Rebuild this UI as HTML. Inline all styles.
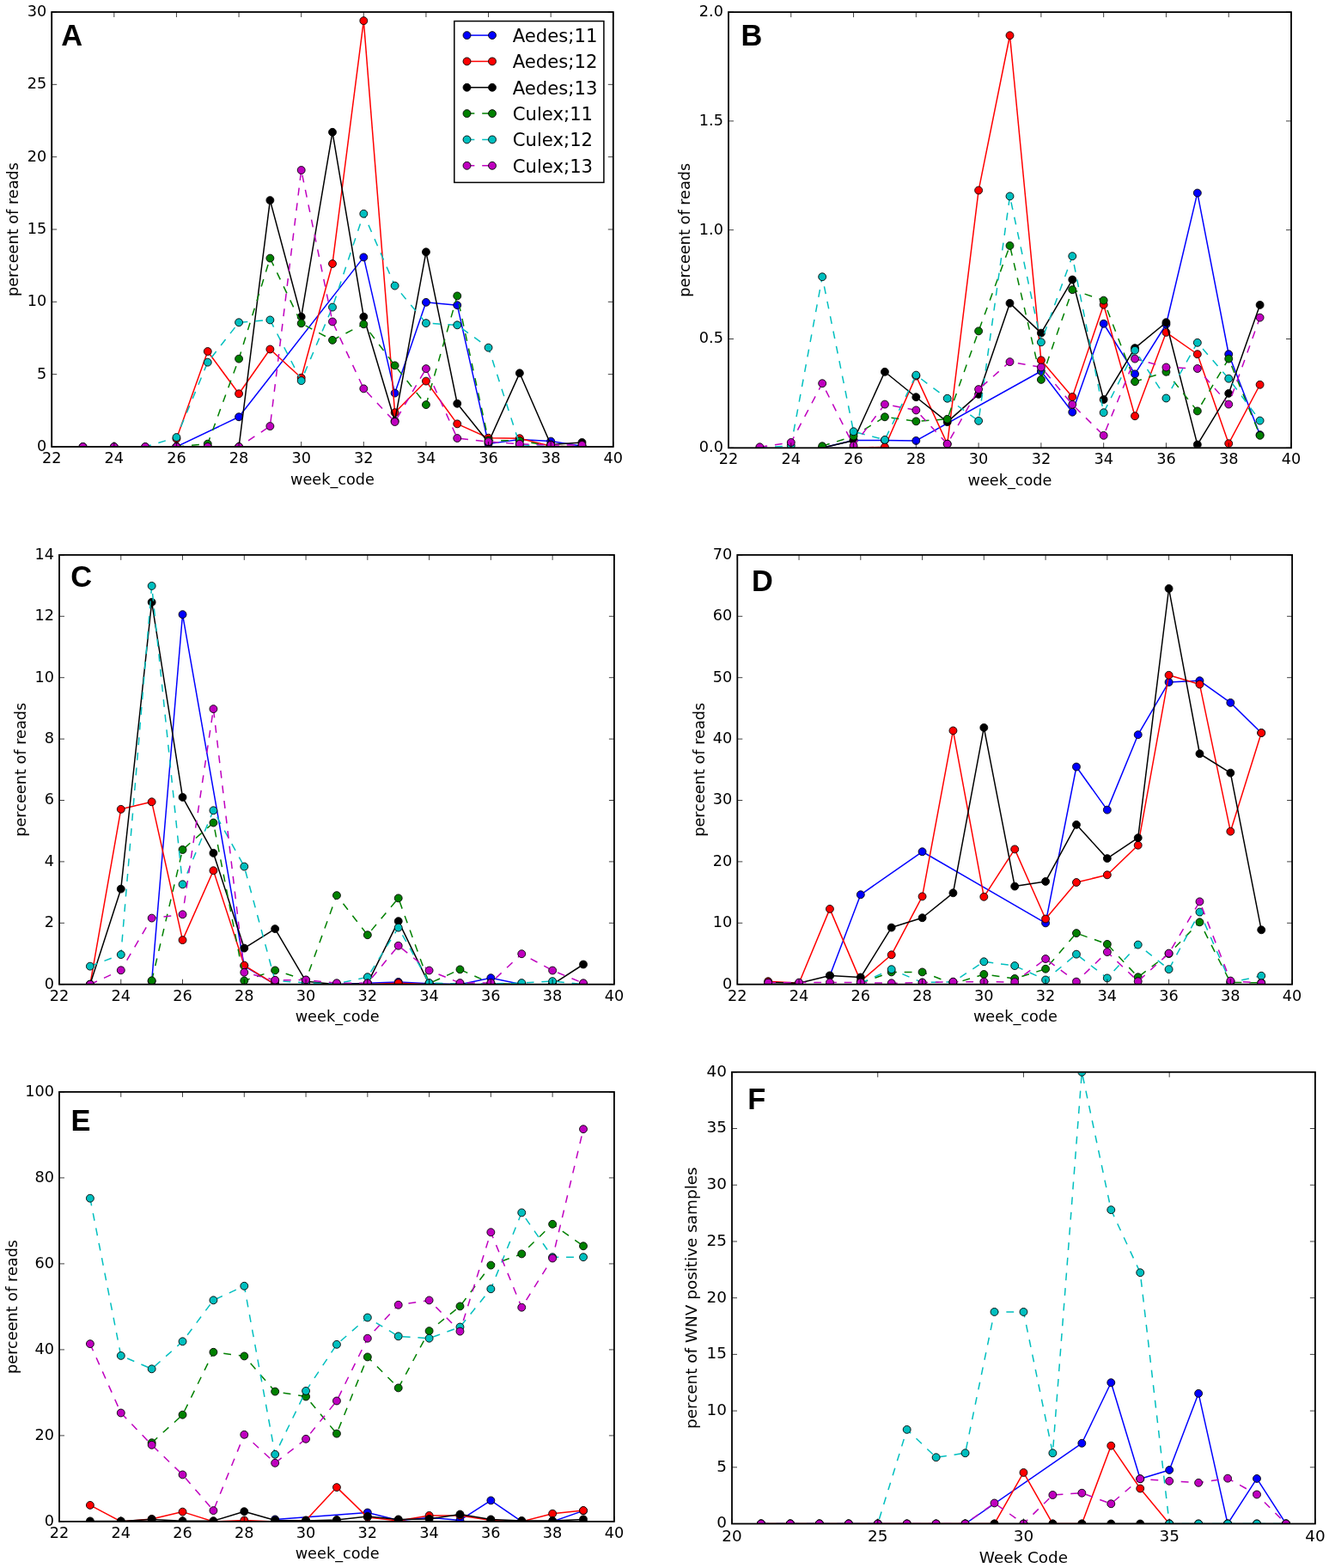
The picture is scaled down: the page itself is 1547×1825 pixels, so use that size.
<!DOCTYPE html>
<html><head><meta charset="utf-8"><title>Figure</title><style>html,body{margin:0;padding:0;background:#fff;}svg{display:block;}</style></head><body>
<svg width="1547" height="1825" viewBox="0 0 1547 1825" font-family="'DejaVu Sans', 'Liberation Sans', sans-serif">
<rect width="100%" height="100%" fill="#fff"/>
<clipPath id="c1"><rect x="60.8" y="14.6" width="652.4" height="504.8"/></clipPath>
<g clip-path="url(#c1)">
<path d="M205.44,520 L278.07,485.25 L423.31,299.38 L459.62,457.59 L495.93,351.84 L532.24,355.21 L568.56,516.63 L604.87,511.57 L641.18,513.59 L677.49,519.16" fill="none" stroke="#0000ff" stroke-width="1.5" stroke-linejoin="round" stroke-linecap="butt"/>
<circle cx="205.44" cy="520" r="4.45" fill="#0000ff" stroke="#000" stroke-width="0.9"/>
<circle cx="278.07" cy="485.25" r="4.45" fill="#0000ff" stroke="#000" stroke-width="0.9"/>
<circle cx="423.31" cy="299.38" r="4.45" fill="#0000ff" stroke="#000" stroke-width="0.9"/>
<circle cx="459.62" cy="457.59" r="4.45" fill="#0000ff" stroke="#000" stroke-width="0.9"/>
<circle cx="495.93" cy="351.84" r="4.45" fill="#0000ff" stroke="#000" stroke-width="0.9"/>
<circle cx="532.24" cy="355.21" r="4.45" fill="#0000ff" stroke="#000" stroke-width="0.9"/>
<circle cx="568.56" cy="516.63" r="4.45" fill="#0000ff" stroke="#000" stroke-width="0.9"/>
<circle cx="604.87" cy="511.57" r="4.45" fill="#0000ff" stroke="#000" stroke-width="0.9"/>
<circle cx="641.18" cy="513.59" r="4.45" fill="#0000ff" stroke="#000" stroke-width="0.9"/>
<circle cx="677.49" cy="519.16" r="4.45" fill="#0000ff" stroke="#000" stroke-width="0.9"/>
<path d="M205.44,510.72 L241.76,409.02 L278.07,458.27 L314.38,406.49 L350.69,439.71 L387,306.97 L423.31,24.12 L459.62,480.19 L495.93,443.59 L532.24,493.35 L568.56,509.71 L604.87,510.22 L641.18,519.16 L677.49,520" fill="none" stroke="#ff0000" stroke-width="1.5" stroke-linejoin="round" stroke-linecap="butt"/>
<circle cx="205.44" cy="510.72" r="4.45" fill="#ff0000" stroke="#000" stroke-width="0.9"/>
<circle cx="241.76" cy="409.02" r="4.45" fill="#ff0000" stroke="#000" stroke-width="0.9"/>
<circle cx="278.07" cy="458.27" r="4.45" fill="#ff0000" stroke="#000" stroke-width="0.9"/>
<circle cx="314.38" cy="406.49" r="4.45" fill="#ff0000" stroke="#000" stroke-width="0.9"/>
<circle cx="350.69" cy="439.71" r="4.45" fill="#ff0000" stroke="#000" stroke-width="0.9"/>
<circle cx="387" cy="306.97" r="4.45" fill="#ff0000" stroke="#000" stroke-width="0.9"/>
<circle cx="423.31" cy="24.12" r="4.45" fill="#ff0000" stroke="#000" stroke-width="0.9"/>
<circle cx="459.62" cy="480.19" r="4.45" fill="#ff0000" stroke="#000" stroke-width="0.9"/>
<circle cx="495.93" cy="443.59" r="4.45" fill="#ff0000" stroke="#000" stroke-width="0.9"/>
<circle cx="532.24" cy="493.35" r="4.45" fill="#ff0000" stroke="#000" stroke-width="0.9"/>
<circle cx="568.56" cy="509.71" r="4.45" fill="#ff0000" stroke="#000" stroke-width="0.9"/>
<circle cx="604.87" cy="510.22" r="4.45" fill="#ff0000" stroke="#000" stroke-width="0.9"/>
<circle cx="641.18" cy="519.16" r="4.45" fill="#ff0000" stroke="#000" stroke-width="0.9"/>
<circle cx="677.49" cy="520" r="4.45" fill="#ff0000" stroke="#000" stroke-width="0.9"/>
<path d="M205.44,520 L241.76,520 L278.07,520 L314.38,233.1 L350.69,368.71 L387,153.82 L423.31,368.71 L459.62,489.98 L495.93,293.31 L532.24,469.74 L568.56,514.94 L604.87,434.32 L641.18,517.47 L677.49,514.94" fill="none" stroke="#000000" stroke-width="1.5" stroke-linejoin="round" stroke-linecap="butt"/>
<circle cx="205.44" cy="520" r="4.45" fill="#000000" stroke="#000" stroke-width="0.9"/>
<circle cx="241.76" cy="520" r="4.45" fill="#000000" stroke="#000" stroke-width="0.9"/>
<circle cx="278.07" cy="520" r="4.45" fill="#000000" stroke="#000" stroke-width="0.9"/>
<circle cx="314.38" cy="233.1" r="4.45" fill="#000000" stroke="#000" stroke-width="0.9"/>
<circle cx="350.69" cy="368.71" r="4.45" fill="#000000" stroke="#000" stroke-width="0.9"/>
<circle cx="387" cy="153.82" r="4.45" fill="#000000" stroke="#000" stroke-width="0.9"/>
<circle cx="423.31" cy="368.71" r="4.45" fill="#000000" stroke="#000" stroke-width="0.9"/>
<circle cx="459.62" cy="489.98" r="4.45" fill="#000000" stroke="#000" stroke-width="0.9"/>
<circle cx="495.93" cy="293.31" r="4.45" fill="#000000" stroke="#000" stroke-width="0.9"/>
<circle cx="532.24" cy="469.74" r="4.45" fill="#000000" stroke="#000" stroke-width="0.9"/>
<circle cx="568.56" cy="514.94" r="4.45" fill="#000000" stroke="#000" stroke-width="0.9"/>
<circle cx="604.87" cy="434.32" r="4.45" fill="#000000" stroke="#000" stroke-width="0.9"/>
<circle cx="641.18" cy="517.47" r="4.45" fill="#000000" stroke="#000" stroke-width="0.9"/>
<circle cx="677.49" cy="514.94" r="4.45" fill="#000000" stroke="#000" stroke-width="0.9"/>
<path d="M205.44,520 L241.76,516.63 L278.07,417.62 L314.38,300.56 L350.69,376.3 L387,395.86 L423.31,377.31 L459.62,425.38 L495.93,471.09 L532.24,344.42 L568.56,512.41 L604.87,513.08 L641.18,519.16 L677.49,520" fill="none" stroke="#008000" stroke-width="1.5" stroke-dasharray="8.85,8.85" stroke-linejoin="round" stroke-linecap="butt"/>
<circle cx="205.44" cy="520" r="4.45" fill="#008000" stroke="#000" stroke-width="0.9"/>
<circle cx="241.76" cy="516.63" r="4.45" fill="#008000" stroke="#000" stroke-width="0.9"/>
<circle cx="278.07" cy="417.62" r="4.45" fill="#008000" stroke="#000" stroke-width="0.9"/>
<circle cx="314.38" cy="300.56" r="4.45" fill="#008000" stroke="#000" stroke-width="0.9"/>
<circle cx="350.69" cy="376.3" r="4.45" fill="#008000" stroke="#000" stroke-width="0.9"/>
<circle cx="387" cy="395.86" r="4.45" fill="#008000" stroke="#000" stroke-width="0.9"/>
<circle cx="423.31" cy="377.31" r="4.45" fill="#008000" stroke="#000" stroke-width="0.9"/>
<circle cx="459.62" cy="425.38" r="4.45" fill="#008000" stroke="#000" stroke-width="0.9"/>
<circle cx="495.93" cy="471.09" r="4.45" fill="#008000" stroke="#000" stroke-width="0.9"/>
<circle cx="532.24" cy="344.42" r="4.45" fill="#008000" stroke="#000" stroke-width="0.9"/>
<circle cx="568.56" cy="512.41" r="4.45" fill="#008000" stroke="#000" stroke-width="0.9"/>
<circle cx="604.87" cy="513.08" r="4.45" fill="#008000" stroke="#000" stroke-width="0.9"/>
<circle cx="641.18" cy="519.16" r="4.45" fill="#008000" stroke="#000" stroke-width="0.9"/>
<circle cx="677.49" cy="520" r="4.45" fill="#008000" stroke="#000" stroke-width="0.9"/>
<path d="M96.51,520 L132.82,520 L169.13,520 L205.44,509.04 L241.76,421.67 L278.07,375.28 L314.38,372.42 L350.69,443.09 L387,357.57 L423.31,248.78 L459.62,332.61 L495.93,376.13 L532.24,378.32 L568.56,404.63 L604.87,517.47 L641.18,520 L677.49,520" fill="none" stroke="#00bfbf" stroke-width="1.5" stroke-dasharray="8.85,8.85" stroke-linejoin="round" stroke-linecap="butt"/>
<circle cx="96.51" cy="520" r="4.45" fill="#00bfbf" stroke="#000" stroke-width="0.9"/>
<circle cx="132.82" cy="520" r="4.45" fill="#00bfbf" stroke="#000" stroke-width="0.9"/>
<circle cx="169.13" cy="520" r="4.45" fill="#00bfbf" stroke="#000" stroke-width="0.9"/>
<circle cx="205.44" cy="509.04" r="4.45" fill="#00bfbf" stroke="#000" stroke-width="0.9"/>
<circle cx="241.76" cy="421.67" r="4.45" fill="#00bfbf" stroke="#000" stroke-width="0.9"/>
<circle cx="278.07" cy="375.28" r="4.45" fill="#00bfbf" stroke="#000" stroke-width="0.9"/>
<circle cx="314.38" cy="372.42" r="4.45" fill="#00bfbf" stroke="#000" stroke-width="0.9"/>
<circle cx="350.69" cy="443.09" r="4.45" fill="#00bfbf" stroke="#000" stroke-width="0.9"/>
<circle cx="387" cy="357.57" r="4.45" fill="#00bfbf" stroke="#000" stroke-width="0.9"/>
<circle cx="423.31" cy="248.78" r="4.45" fill="#00bfbf" stroke="#000" stroke-width="0.9"/>
<circle cx="459.62" cy="332.61" r="4.45" fill="#00bfbf" stroke="#000" stroke-width="0.9"/>
<circle cx="495.93" cy="376.13" r="4.45" fill="#00bfbf" stroke="#000" stroke-width="0.9"/>
<circle cx="532.24" cy="378.32" r="4.45" fill="#00bfbf" stroke="#000" stroke-width="0.9"/>
<circle cx="568.56" cy="404.63" r="4.45" fill="#00bfbf" stroke="#000" stroke-width="0.9"/>
<circle cx="604.87" cy="517.47" r="4.45" fill="#00bfbf" stroke="#000" stroke-width="0.9"/>
<circle cx="641.18" cy="520" r="4.45" fill="#00bfbf" stroke="#000" stroke-width="0.9"/>
<circle cx="677.49" cy="520" r="4.45" fill="#00bfbf" stroke="#000" stroke-width="0.9"/>
<path d="M96.51,520 L132.82,520 L169.13,520 L205.44,520 L241.76,520 L278.07,520 L314.38,496.05 L350.69,198.02 L387,374.44 L423.31,452.36 L459.62,490.99 L495.93,429.09 L532.24,510.05 L568.56,514.1 L604.87,516.8 L641.18,517.98 L677.49,517.98" fill="none" stroke="#bf00bf" stroke-width="1.5" stroke-dasharray="8.85,8.85" stroke-linejoin="round" stroke-linecap="butt"/>
<circle cx="96.51" cy="520" r="4.45" fill="#bf00bf" stroke="#000" stroke-width="0.9"/>
<circle cx="132.82" cy="520" r="4.45" fill="#bf00bf" stroke="#000" stroke-width="0.9"/>
<circle cx="169.13" cy="520" r="4.45" fill="#bf00bf" stroke="#000" stroke-width="0.9"/>
<circle cx="205.44" cy="520" r="4.45" fill="#bf00bf" stroke="#000" stroke-width="0.9"/>
<circle cx="241.76" cy="520" r="4.45" fill="#bf00bf" stroke="#000" stroke-width="0.9"/>
<circle cx="278.07" cy="520" r="4.45" fill="#bf00bf" stroke="#000" stroke-width="0.9"/>
<circle cx="314.38" cy="496.05" r="4.45" fill="#bf00bf" stroke="#000" stroke-width="0.9"/>
<circle cx="350.69" cy="198.02" r="4.45" fill="#bf00bf" stroke="#000" stroke-width="0.9"/>
<circle cx="387" cy="374.44" r="4.45" fill="#bf00bf" stroke="#000" stroke-width="0.9"/>
<circle cx="423.31" cy="452.36" r="4.45" fill="#bf00bf" stroke="#000" stroke-width="0.9"/>
<circle cx="459.62" cy="490.99" r="4.45" fill="#bf00bf" stroke="#000" stroke-width="0.9"/>
<circle cx="495.93" cy="429.09" r="4.45" fill="#bf00bf" stroke="#000" stroke-width="0.9"/>
<circle cx="532.24" cy="510.05" r="4.45" fill="#bf00bf" stroke="#000" stroke-width="0.9"/>
<circle cx="568.56" cy="514.1" r="4.45" fill="#bf00bf" stroke="#000" stroke-width="0.9"/>
<circle cx="604.87" cy="516.8" r="4.45" fill="#bf00bf" stroke="#000" stroke-width="0.9"/>
<circle cx="641.18" cy="517.98" r="4.45" fill="#bf00bf" stroke="#000" stroke-width="0.9"/>
<circle cx="677.49" cy="517.98" r="4.45" fill="#bf00bf" stroke="#000" stroke-width="0.9"/>
</g>
<path d="M60.2,520v-6M60.2,14v6M132.82,520v-6M132.82,14v6M205.44,520v-6M205.44,14v6M278.07,520v-6M278.07,14v6M350.69,520v-6M350.69,14v6M423.31,520v-6M423.31,14v6M495.93,520v-6M495.93,14v6M568.56,520v-6M568.56,14v6M641.18,520v-6M641.18,14v6M713.8,520v-6M713.8,14v6M60.2,520h6M713.8,520h-6M60.2,435.67h6M713.8,435.67h-6M60.2,351.33h6M713.8,351.33h-6M60.2,267h6M713.8,267h-6M60.2,182.67h6M713.8,182.67h-6M60.2,98.33h6M713.8,98.33h-6M60.2,14h6M713.8,14h-6" stroke="#000" stroke-width="0.75" fill="none"/>
<rect x="60.2" y="14" width="653.6" height="506" fill="none" stroke="#000" stroke-width="1.8"/>
<g font-size="17.7"><text x="60.2" y="539.1" text-anchor="middle">22</text><text x="132.82" y="539.1" text-anchor="middle">24</text><text x="205.44" y="539.1" text-anchor="middle">26</text><text x="278.07" y="539.1" text-anchor="middle">28</text><text x="350.69" y="539.1" text-anchor="middle">30</text><text x="423.31" y="539.1" text-anchor="middle">32</text><text x="495.93" y="539.1" text-anchor="middle">34</text><text x="568.56" y="539.1" text-anchor="middle">36</text><text x="641.18" y="539.1" text-anchor="middle">38</text><text x="713.8" y="539.1" text-anchor="middle">40</text><text x="54.2" y="524.9" text-anchor="end">0</text><text x="54.2" y="440.57" text-anchor="end">5</text><text x="54.2" y="356.23" text-anchor="end">10</text><text x="54.2" y="271.9" text-anchor="end">15</text><text x="54.2" y="187.57" text-anchor="end">20</text><text x="54.2" y="103.23" text-anchor="end">25</text><text x="54.2" y="18.9" text-anchor="end">30</text><text x="387" y="564.1" text-anchor="middle">week_code</text><text transform="translate(21,267) rotate(-90)" text-anchor="middle">perceent of reads</text></g>
<text x="71.3" y="53.2" font-size="34.4" font-weight="bold" font-family="Liberation Sans, Arial, sans-serif">A</text>
<rect x="528.8" y="24.6" width="174.1" height="187.8" fill="#fff" stroke="#000" stroke-width="1.5"/>
<path d="M543.5,41.1H573" stroke="#0000ff" stroke-width="1.5"/>
<circle cx="543.5" cy="41.1" r="4.45" fill="#0000ff" stroke="#000" stroke-width="0.9"/>
<circle cx="573" cy="41.1" r="4.45" fill="#0000ff" stroke="#000" stroke-width="0.9"/>
<text x="596.7" y="48.9" font-size="21.2">Aedes;11</text>
<path d="M543.5,71.44H573" stroke="#ff0000" stroke-width="1.5"/>
<circle cx="543.5" cy="71.44" r="4.45" fill="#ff0000" stroke="#000" stroke-width="0.9"/>
<circle cx="573" cy="71.44" r="4.45" fill="#ff0000" stroke="#000" stroke-width="0.9"/>
<text x="596.7" y="79.24" font-size="21.2">Aedes;12</text>
<path d="M543.5,101.78H573" stroke="#000000" stroke-width="1.5"/>
<circle cx="543.5" cy="101.78" r="4.45" fill="#000000" stroke="#000" stroke-width="0.9"/>
<circle cx="573" cy="101.78" r="4.45" fill="#000000" stroke="#000" stroke-width="0.9"/>
<text x="596.7" y="109.58" font-size="21.2">Aedes;13</text>
<path d="M543.5,132.12H573" stroke="#008000" stroke-width="1.5" stroke-dasharray="8.85,8.85"/>
<circle cx="543.5" cy="132.12" r="4.45" fill="#008000" stroke="#000" stroke-width="0.9"/>
<circle cx="573" cy="132.12" r="4.45" fill="#008000" stroke="#000" stroke-width="0.9"/>
<text x="596.7" y="139.92" font-size="21.2">Culex;11</text>
<path d="M543.5,162.46H573" stroke="#00bfbf" stroke-width="1.5" stroke-dasharray="8.85,8.85"/>
<circle cx="543.5" cy="162.46" r="4.45" fill="#00bfbf" stroke="#000" stroke-width="0.9"/>
<circle cx="573" cy="162.46" r="4.45" fill="#00bfbf" stroke="#000" stroke-width="0.9"/>
<text x="596.7" y="170.26" font-size="21.2">Culex;12</text>
<path d="M543.5,192.8H573" stroke="#bf00bf" stroke-width="1.5" stroke-dasharray="8.85,8.85"/>
<circle cx="543.5" cy="192.8" r="4.45" fill="#bf00bf" stroke="#000" stroke-width="0.9"/>
<circle cx="573" cy="192.8" r="4.45" fill="#bf00bf" stroke="#000" stroke-width="0.9"/>
<text x="596.7" y="200.6" font-size="21.2">Culex;13</text>
<clipPath id="c2"><rect x="848.6" y="14.7" width="653.8" height="506"/></clipPath>
<g clip-path="url(#c2)">
<path d="M957.17,521.3 L993.56,512.42 L1029.94,512.42 L1066.33,512.93 L1211.89,432.03 L1248.28,479.71 L1284.67,376.75 L1321.06,435.33 L1357.44,377.51 L1393.83,224.59 L1430.22,412.25 L1466.61,506.08" fill="none" stroke="#0000ff" stroke-width="1.5" stroke-linejoin="round" stroke-linecap="butt"/>
<circle cx="957.17" cy="521.3" r="4.45" fill="#0000ff" stroke="#000" stroke-width="0.9"/>
<circle cx="993.56" cy="512.42" r="4.45" fill="#0000ff" stroke="#000" stroke-width="0.9"/>
<circle cx="1029.94" cy="512.42" r="4.45" fill="#0000ff" stroke="#000" stroke-width="0.9"/>
<circle cx="1066.33" cy="512.93" r="4.45" fill="#0000ff" stroke="#000" stroke-width="0.9"/>
<circle cx="1211.89" cy="432.03" r="4.45" fill="#0000ff" stroke="#000" stroke-width="0.9"/>
<circle cx="1248.28" cy="479.71" r="4.45" fill="#0000ff" stroke="#000" stroke-width="0.9"/>
<circle cx="1284.67" cy="376.75" r="4.45" fill="#0000ff" stroke="#000" stroke-width="0.9"/>
<circle cx="1321.06" cy="435.33" r="4.45" fill="#0000ff" stroke="#000" stroke-width="0.9"/>
<circle cx="1357.44" cy="377.51" r="4.45" fill="#0000ff" stroke="#000" stroke-width="0.9"/>
<circle cx="1393.83" cy="224.59" r="4.45" fill="#0000ff" stroke="#000" stroke-width="0.9"/>
<circle cx="1430.22" cy="412.25" r="4.45" fill="#0000ff" stroke="#000" stroke-width="0.9"/>
<circle cx="1466.61" cy="506.08" r="4.45" fill="#0000ff" stroke="#000" stroke-width="0.9"/>
<path d="M993.56,521.3 L1029.94,520.29 L1066.33,437.61 L1102.72,516.74 L1139.11,221.54 L1175.5,41.24 L1211.89,419.35 L1248.28,461.96 L1284.67,354.68 L1321.06,484.27 L1357.44,386.89 L1393.83,412.25 L1430.22,516.23 L1466.61,447.76" fill="none" stroke="#ff0000" stroke-width="1.5" stroke-linejoin="round" stroke-linecap="butt"/>
<circle cx="993.56" cy="521.3" r="4.45" fill="#ff0000" stroke="#000" stroke-width="0.9"/>
<circle cx="1029.94" cy="520.29" r="4.45" fill="#ff0000" stroke="#000" stroke-width="0.9"/>
<circle cx="1066.33" cy="437.61" r="4.45" fill="#ff0000" stroke="#000" stroke-width="0.9"/>
<circle cx="1102.72" cy="516.74" r="4.45" fill="#ff0000" stroke="#000" stroke-width="0.9"/>
<circle cx="1139.11" cy="221.54" r="4.45" fill="#ff0000" stroke="#000" stroke-width="0.9"/>
<circle cx="1175.5" cy="41.24" r="4.45" fill="#ff0000" stroke="#000" stroke-width="0.9"/>
<circle cx="1211.89" cy="419.35" r="4.45" fill="#ff0000" stroke="#000" stroke-width="0.9"/>
<circle cx="1248.28" cy="461.96" r="4.45" fill="#ff0000" stroke="#000" stroke-width="0.9"/>
<circle cx="1284.67" cy="354.68" r="4.45" fill="#ff0000" stroke="#000" stroke-width="0.9"/>
<circle cx="1321.06" cy="484.27" r="4.45" fill="#ff0000" stroke="#000" stroke-width="0.9"/>
<circle cx="1357.44" cy="386.89" r="4.45" fill="#ff0000" stroke="#000" stroke-width="0.9"/>
<circle cx="1393.83" cy="412.25" r="4.45" fill="#ff0000" stroke="#000" stroke-width="0.9"/>
<circle cx="1430.22" cy="516.23" r="4.45" fill="#ff0000" stroke="#000" stroke-width="0.9"/>
<circle cx="1466.61" cy="447.76" r="4.45" fill="#ff0000" stroke="#000" stroke-width="0.9"/>
<path d="M957.17,521.3 L993.56,512.68 L1029.94,432.79 L1066.33,462.21 L1102.72,491.12 L1139.11,458.91 L1175.5,352.91 L1211.89,387.65 L1248.28,325.52 L1284.67,465 L1321.06,405.15 L1357.44,375.23 L1393.83,517.5 L1430.22,457.9 L1466.61,354.94" fill="none" stroke="#000000" stroke-width="1.5" stroke-linejoin="round" stroke-linecap="butt"/>
<circle cx="957.17" cy="521.3" r="4.45" fill="#000000" stroke="#000" stroke-width="0.9"/>
<circle cx="993.56" cy="512.68" r="4.45" fill="#000000" stroke="#000" stroke-width="0.9"/>
<circle cx="1029.94" cy="432.79" r="4.45" fill="#000000" stroke="#000" stroke-width="0.9"/>
<circle cx="1066.33" cy="462.21" r="4.45" fill="#000000" stroke="#000" stroke-width="0.9"/>
<circle cx="1102.72" cy="491.12" r="4.45" fill="#000000" stroke="#000" stroke-width="0.9"/>
<circle cx="1139.11" cy="458.91" r="4.45" fill="#000000" stroke="#000" stroke-width="0.9"/>
<circle cx="1175.5" cy="352.91" r="4.45" fill="#000000" stroke="#000" stroke-width="0.9"/>
<circle cx="1211.89" cy="387.65" r="4.45" fill="#000000" stroke="#000" stroke-width="0.9"/>
<circle cx="1248.28" cy="325.52" r="4.45" fill="#000000" stroke="#000" stroke-width="0.9"/>
<circle cx="1284.67" cy="465" r="4.45" fill="#000000" stroke="#000" stroke-width="0.9"/>
<circle cx="1321.06" cy="405.15" r="4.45" fill="#000000" stroke="#000" stroke-width="0.9"/>
<circle cx="1357.44" cy="375.23" r="4.45" fill="#000000" stroke="#000" stroke-width="0.9"/>
<circle cx="1393.83" cy="517.5" r="4.45" fill="#000000" stroke="#000" stroke-width="0.9"/>
<circle cx="1430.22" cy="457.9" r="4.45" fill="#000000" stroke="#000" stroke-width="0.9"/>
<circle cx="1466.61" cy="354.94" r="4.45" fill="#000000" stroke="#000" stroke-width="0.9"/>
<path d="M957.17,519.27 L993.56,507.61 L1029.94,485.29 L1066.33,490.36 L1102.72,487.82 L1139.11,385.37 L1175.5,285.96 L1211.89,441.92 L1248.28,337.19 L1284.67,349.61 L1321.06,444.21 L1357.44,432.79 L1393.83,478.44 L1430.22,417.58 L1466.61,506.84" fill="none" stroke="#008000" stroke-width="1.5" stroke-dasharray="8.85,8.85" stroke-linejoin="round" stroke-linecap="butt"/>
<circle cx="957.17" cy="519.27" r="4.45" fill="#008000" stroke="#000" stroke-width="0.9"/>
<circle cx="993.56" cy="507.61" r="4.45" fill="#008000" stroke="#000" stroke-width="0.9"/>
<circle cx="1029.94" cy="485.29" r="4.45" fill="#008000" stroke="#000" stroke-width="0.9"/>
<circle cx="1066.33" cy="490.36" r="4.45" fill="#008000" stroke="#000" stroke-width="0.9"/>
<circle cx="1102.72" cy="487.82" r="4.45" fill="#008000" stroke="#000" stroke-width="0.9"/>
<circle cx="1139.11" cy="385.37" r="4.45" fill="#008000" stroke="#000" stroke-width="0.9"/>
<circle cx="1175.5" cy="285.96" r="4.45" fill="#008000" stroke="#000" stroke-width="0.9"/>
<circle cx="1211.89" cy="441.92" r="4.45" fill="#008000" stroke="#000" stroke-width="0.9"/>
<circle cx="1248.28" cy="337.19" r="4.45" fill="#008000" stroke="#000" stroke-width="0.9"/>
<circle cx="1284.67" cy="349.61" r="4.45" fill="#008000" stroke="#000" stroke-width="0.9"/>
<circle cx="1321.06" cy="444.21" r="4.45" fill="#008000" stroke="#000" stroke-width="0.9"/>
<circle cx="1357.44" cy="432.79" r="4.45" fill="#008000" stroke="#000" stroke-width="0.9"/>
<circle cx="1393.83" cy="478.44" r="4.45" fill="#008000" stroke="#000" stroke-width="0.9"/>
<circle cx="1430.22" cy="417.58" r="4.45" fill="#008000" stroke="#000" stroke-width="0.9"/>
<circle cx="1466.61" cy="506.84" r="4.45" fill="#008000" stroke="#000" stroke-width="0.9"/>
<path d="M884.39,521.3 L920.78,518.76 L957.17,322.22 L993.56,502.28 L1029.94,511.92 L1066.33,436.6 L1102.72,463.73 L1139.11,489.85 L1175.5,228.39 L1211.89,398.3 L1248.28,298.13 L1284.67,480.22 L1321.06,407.69 L1357.44,463.48 L1393.83,398.81 L1430.22,440.66 L1466.61,489.6" fill="none" stroke="#00bfbf" stroke-width="1.5" stroke-dasharray="8.85,8.85" stroke-linejoin="round" stroke-linecap="butt"/>
<circle cx="884.39" cy="521.3" r="4.45" fill="#00bfbf" stroke="#000" stroke-width="0.9"/>
<circle cx="920.78" cy="518.76" r="4.45" fill="#00bfbf" stroke="#000" stroke-width="0.9"/>
<circle cx="957.17" cy="322.22" r="4.45" fill="#00bfbf" stroke="#000" stroke-width="0.9"/>
<circle cx="993.56" cy="502.28" r="4.45" fill="#00bfbf" stroke="#000" stroke-width="0.9"/>
<circle cx="1029.94" cy="511.92" r="4.45" fill="#00bfbf" stroke="#000" stroke-width="0.9"/>
<circle cx="1066.33" cy="436.6" r="4.45" fill="#00bfbf" stroke="#000" stroke-width="0.9"/>
<circle cx="1102.72" cy="463.73" r="4.45" fill="#00bfbf" stroke="#000" stroke-width="0.9"/>
<circle cx="1139.11" cy="489.85" r="4.45" fill="#00bfbf" stroke="#000" stroke-width="0.9"/>
<circle cx="1175.5" cy="228.39" r="4.45" fill="#00bfbf" stroke="#000" stroke-width="0.9"/>
<circle cx="1211.89" cy="398.3" r="4.45" fill="#00bfbf" stroke="#000" stroke-width="0.9"/>
<circle cx="1248.28" cy="298.13" r="4.45" fill="#00bfbf" stroke="#000" stroke-width="0.9"/>
<circle cx="1284.67" cy="480.22" r="4.45" fill="#00bfbf" stroke="#000" stroke-width="0.9"/>
<circle cx="1321.06" cy="407.69" r="4.45" fill="#00bfbf" stroke="#000" stroke-width="0.9"/>
<circle cx="1357.44" cy="463.48" r="4.45" fill="#00bfbf" stroke="#000" stroke-width="0.9"/>
<circle cx="1393.83" cy="398.81" r="4.45" fill="#00bfbf" stroke="#000" stroke-width="0.9"/>
<circle cx="1430.22" cy="440.66" r="4.45" fill="#00bfbf" stroke="#000" stroke-width="0.9"/>
<circle cx="1466.61" cy="489.6" r="4.45" fill="#00bfbf" stroke="#000" stroke-width="0.9"/>
<path d="M884.39,520.29 L920.78,514.96 L957.17,446.23 L993.56,518.76 L1029.94,470.58 L1066.33,477.43 L1102.72,516.74 L1139.11,453.08 L1175.5,421.13 L1211.89,427.47 L1248.28,470.83 L1284.67,506.84 L1321.06,417.58 L1357.44,427.47 L1393.83,428.99 L1430.22,470.58 L1466.61,369.65" fill="none" stroke="#bf00bf" stroke-width="1.5" stroke-dasharray="8.85,8.85" stroke-linejoin="round" stroke-linecap="butt"/>
<circle cx="884.39" cy="520.29" r="4.45" fill="#bf00bf" stroke="#000" stroke-width="0.9"/>
<circle cx="920.78" cy="514.96" r="4.45" fill="#bf00bf" stroke="#000" stroke-width="0.9"/>
<circle cx="957.17" cy="446.23" r="4.45" fill="#bf00bf" stroke="#000" stroke-width="0.9"/>
<circle cx="993.56" cy="518.76" r="4.45" fill="#bf00bf" stroke="#000" stroke-width="0.9"/>
<circle cx="1029.94" cy="470.58" r="4.45" fill="#bf00bf" stroke="#000" stroke-width="0.9"/>
<circle cx="1066.33" cy="477.43" r="4.45" fill="#bf00bf" stroke="#000" stroke-width="0.9"/>
<circle cx="1102.72" cy="516.74" r="4.45" fill="#bf00bf" stroke="#000" stroke-width="0.9"/>
<circle cx="1139.11" cy="453.08" r="4.45" fill="#bf00bf" stroke="#000" stroke-width="0.9"/>
<circle cx="1175.5" cy="421.13" r="4.45" fill="#bf00bf" stroke="#000" stroke-width="0.9"/>
<circle cx="1211.89" cy="427.47" r="4.45" fill="#bf00bf" stroke="#000" stroke-width="0.9"/>
<circle cx="1248.28" cy="470.83" r="4.45" fill="#bf00bf" stroke="#000" stroke-width="0.9"/>
<circle cx="1284.67" cy="506.84" r="4.45" fill="#bf00bf" stroke="#000" stroke-width="0.9"/>
<circle cx="1321.06" cy="417.58" r="4.45" fill="#bf00bf" stroke="#000" stroke-width="0.9"/>
<circle cx="1357.44" cy="427.47" r="4.45" fill="#bf00bf" stroke="#000" stroke-width="0.9"/>
<circle cx="1393.83" cy="428.99" r="4.45" fill="#bf00bf" stroke="#000" stroke-width="0.9"/>
<circle cx="1430.22" cy="470.58" r="4.45" fill="#bf00bf" stroke="#000" stroke-width="0.9"/>
<circle cx="1466.61" cy="369.65" r="4.45" fill="#bf00bf" stroke="#000" stroke-width="0.9"/>
</g>
<path d="M848,521.3v-6M848,14.1v6M920.78,521.3v-6M920.78,14.1v6M993.56,521.3v-6M993.56,14.1v6M1066.33,521.3v-6M1066.33,14.1v6M1139.11,521.3v-6M1139.11,14.1v6M1211.89,521.3v-6M1211.89,14.1v6M1284.67,521.3v-6M1284.67,14.1v6M1357.44,521.3v-6M1357.44,14.1v6M1430.22,521.3v-6M1430.22,14.1v6M1503,521.3v-6M1503,14.1v6M848,521.3h6M1503,521.3h-6M848,394.5h6M1503,394.5h-6M848,267.7h6M1503,267.7h-6M848,140.9h6M1503,140.9h-6M848,14.1h6M1503,14.1h-6" stroke="#000" stroke-width="0.75" fill="none"/>
<rect x="848" y="14.1" width="655" height="507.2" fill="none" stroke="#000" stroke-width="1.8"/>
<g font-size="17.7"><text x="848" y="540.4" text-anchor="middle">22</text><text x="920.78" y="540.4" text-anchor="middle">24</text><text x="993.56" y="540.4" text-anchor="middle">26</text><text x="1066.33" y="540.4" text-anchor="middle">28</text><text x="1139.11" y="540.4" text-anchor="middle">30</text><text x="1211.89" y="540.4" text-anchor="middle">32</text><text x="1284.67" y="540.4" text-anchor="middle">34</text><text x="1357.44" y="540.4" text-anchor="middle">36</text><text x="1430.22" y="540.4" text-anchor="middle">38</text><text x="1503" y="540.4" text-anchor="middle">40</text><text x="842" y="526.2" text-anchor="end">0.0</text><text x="842" y="399.4" text-anchor="end">0.5</text><text x="842" y="272.6" text-anchor="end">1.0</text><text x="842" y="145.8" text-anchor="end">1.5</text><text x="842" y="19" text-anchor="end">2.0</text><text x="1175.5" y="565.4" text-anchor="middle">week_code</text><text transform="translate(802.9,267.7) rotate(-90)" text-anchor="middle">perceent of reads</text></g>
<text x="862.55" y="53.1" font-size="34.4" font-weight="bold" font-family="Liberation Sans, Arial, sans-serif">B</text>
<clipPath id="c3"><rect x="69.6" y="646.5" width="644.7" height="498.6"/></clipPath>
<g clip-path="url(#c3)">
<path d="M176.65,1142.13 L212.53,715.16 L284.3,1124.28 L320.18,1145.7 L356.07,1145.7 L391.95,1145.7 L427.83,1144.27 L463.72,1142.92 L499.6,1144.63 L535.48,1145.7 L571.37,1138.2 L607.25,1145.7 L643.13,1145.7 L679.02,1145.7" fill="none" stroke="#0000ff" stroke-width="1.5" stroke-linejoin="round" stroke-linecap="butt"/>
<circle cx="176.65" cy="1142.13" r="4.45" fill="#0000ff" stroke="#000" stroke-width="0.9"/>
<circle cx="212.53" cy="715.16" r="4.45" fill="#0000ff" stroke="#000" stroke-width="0.9"/>
<circle cx="284.3" cy="1124.28" r="4.45" fill="#0000ff" stroke="#000" stroke-width="0.9"/>
<circle cx="320.18" cy="1145.7" r="4.45" fill="#0000ff" stroke="#000" stroke-width="0.9"/>
<circle cx="356.07" cy="1145.7" r="4.45" fill="#0000ff" stroke="#000" stroke-width="0.9"/>
<circle cx="391.95" cy="1145.7" r="4.45" fill="#0000ff" stroke="#000" stroke-width="0.9"/>
<circle cx="427.83" cy="1144.27" r="4.45" fill="#0000ff" stroke="#000" stroke-width="0.9"/>
<circle cx="463.72" cy="1142.92" r="4.45" fill="#0000ff" stroke="#000" stroke-width="0.9"/>
<circle cx="499.6" cy="1144.63" r="4.45" fill="#0000ff" stroke="#000" stroke-width="0.9"/>
<circle cx="535.48" cy="1145.7" r="4.45" fill="#0000ff" stroke="#000" stroke-width="0.9"/>
<circle cx="571.37" cy="1138.2" r="4.45" fill="#0000ff" stroke="#000" stroke-width="0.9"/>
<circle cx="607.25" cy="1145.7" r="4.45" fill="#0000ff" stroke="#000" stroke-width="0.9"/>
<circle cx="643.13" cy="1145.7" r="4.45" fill="#0000ff" stroke="#000" stroke-width="0.9"/>
<circle cx="679.02" cy="1145.7" r="4.45" fill="#0000ff" stroke="#000" stroke-width="0.9"/>
<path d="M104.88,1145.7 L140.77,941.85 L176.65,933.29 L212.53,1094.11 L248.42,1013.25 L284.3,1123.57 L320.18,1145.7 L356.07,1145.7 L391.95,1145.7 L427.83,1145.7 L463.72,1144.27 L499.6,1145.7 L535.48,1145.7 L571.37,1145.7 L607.25,1145.7 L643.13,1145.7 L679.02,1145.7" fill="none" stroke="#ff0000" stroke-width="1.5" stroke-linejoin="round" stroke-linecap="butt"/>
<circle cx="104.88" cy="1145.7" r="4.45" fill="#ff0000" stroke="#000" stroke-width="0.9"/>
<circle cx="140.77" cy="941.85" r="4.45" fill="#ff0000" stroke="#000" stroke-width="0.9"/>
<circle cx="176.65" cy="933.29" r="4.45" fill="#ff0000" stroke="#000" stroke-width="0.9"/>
<circle cx="212.53" cy="1094.11" r="4.45" fill="#ff0000" stroke="#000" stroke-width="0.9"/>
<circle cx="248.42" cy="1013.25" r="4.45" fill="#ff0000" stroke="#000" stroke-width="0.9"/>
<circle cx="284.3" cy="1123.57" r="4.45" fill="#ff0000" stroke="#000" stroke-width="0.9"/>
<circle cx="320.18" cy="1145.7" r="4.45" fill="#ff0000" stroke="#000" stroke-width="0.9"/>
<circle cx="356.07" cy="1145.7" r="4.45" fill="#ff0000" stroke="#000" stroke-width="0.9"/>
<circle cx="391.95" cy="1145.7" r="4.45" fill="#ff0000" stroke="#000" stroke-width="0.9"/>
<circle cx="427.83" cy="1145.7" r="4.45" fill="#ff0000" stroke="#000" stroke-width="0.9"/>
<circle cx="463.72" cy="1144.27" r="4.45" fill="#ff0000" stroke="#000" stroke-width="0.9"/>
<circle cx="499.6" cy="1145.7" r="4.45" fill="#ff0000" stroke="#000" stroke-width="0.9"/>
<circle cx="535.48" cy="1145.7" r="4.45" fill="#ff0000" stroke="#000" stroke-width="0.9"/>
<circle cx="571.37" cy="1145.7" r="4.45" fill="#ff0000" stroke="#000" stroke-width="0.9"/>
<circle cx="607.25" cy="1145.7" r="4.45" fill="#ff0000" stroke="#000" stroke-width="0.9"/>
<circle cx="643.13" cy="1145.7" r="4.45" fill="#ff0000" stroke="#000" stroke-width="0.9"/>
<circle cx="679.02" cy="1145.7" r="4.45" fill="#ff0000" stroke="#000" stroke-width="0.9"/>
<path d="M104.88,1145.7 L140.77,1034.67 L176.65,700.88 L212.53,927.93 L248.42,992.9 L284.3,1103.57 L320.18,1081.08 L356.07,1142.13 L391.95,1145.7 L427.83,1144.63 L463.72,1072.16 L499.6,1145.7 L535.48,1145.7 L571.37,1145.7 L607.25,1145.7 L643.13,1145.7 L679.02,1122.5" fill="none" stroke="#000000" stroke-width="1.5" stroke-linejoin="round" stroke-linecap="butt"/>
<circle cx="104.88" cy="1145.7" r="4.45" fill="#000000" stroke="#000" stroke-width="0.9"/>
<circle cx="140.77" cy="1034.67" r="4.45" fill="#000000" stroke="#000" stroke-width="0.9"/>
<circle cx="176.65" cy="700.88" r="4.45" fill="#000000" stroke="#000" stroke-width="0.9"/>
<circle cx="212.53" cy="927.93" r="4.45" fill="#000000" stroke="#000" stroke-width="0.9"/>
<circle cx="248.42" cy="992.9" r="4.45" fill="#000000" stroke="#000" stroke-width="0.9"/>
<circle cx="284.3" cy="1103.57" r="4.45" fill="#000000" stroke="#000" stroke-width="0.9"/>
<circle cx="320.18" cy="1081.08" r="4.45" fill="#000000" stroke="#000" stroke-width="0.9"/>
<circle cx="356.07" cy="1142.13" r="4.45" fill="#000000" stroke="#000" stroke-width="0.9"/>
<circle cx="391.95" cy="1145.7" r="4.45" fill="#000000" stroke="#000" stroke-width="0.9"/>
<circle cx="427.83" cy="1144.63" r="4.45" fill="#000000" stroke="#000" stroke-width="0.9"/>
<circle cx="463.72" cy="1072.16" r="4.45" fill="#000000" stroke="#000" stroke-width="0.9"/>
<circle cx="499.6" cy="1145.7" r="4.45" fill="#000000" stroke="#000" stroke-width="0.9"/>
<circle cx="535.48" cy="1145.7" r="4.45" fill="#000000" stroke="#000" stroke-width="0.9"/>
<circle cx="571.37" cy="1145.7" r="4.45" fill="#000000" stroke="#000" stroke-width="0.9"/>
<circle cx="607.25" cy="1145.7" r="4.45" fill="#000000" stroke="#000" stroke-width="0.9"/>
<circle cx="643.13" cy="1145.7" r="4.45" fill="#000000" stroke="#000" stroke-width="0.9"/>
<circle cx="679.02" cy="1122.5" r="4.45" fill="#000000" stroke="#000" stroke-width="0.9"/>
<path d="M176.65,1141.31 L212.53,988.98 L248.42,957.56 L284.3,1141.42 L320.18,1129.39 L356.07,1140.7 L391.95,1042.17 L427.83,1088.22 L463.72,1045.38 L499.6,1144.63 L535.48,1128.35 L571.37,1144.63 L607.25,1145.7 L643.13,1145.7 L679.02,1145.7" fill="none" stroke="#008000" stroke-width="1.5" stroke-dasharray="8.85,8.85" stroke-linejoin="round" stroke-linecap="butt"/>
<circle cx="176.65" cy="1141.31" r="4.45" fill="#008000" stroke="#000" stroke-width="0.9"/>
<circle cx="212.53" cy="988.98" r="4.45" fill="#008000" stroke="#000" stroke-width="0.9"/>
<circle cx="248.42" cy="957.56" r="4.45" fill="#008000" stroke="#000" stroke-width="0.9"/>
<circle cx="284.3" cy="1141.42" r="4.45" fill="#008000" stroke="#000" stroke-width="0.9"/>
<circle cx="320.18" cy="1129.39" r="4.45" fill="#008000" stroke="#000" stroke-width="0.9"/>
<circle cx="356.07" cy="1140.7" r="4.45" fill="#008000" stroke="#000" stroke-width="0.9"/>
<circle cx="391.95" cy="1042.17" r="4.45" fill="#008000" stroke="#000" stroke-width="0.9"/>
<circle cx="427.83" cy="1088.22" r="4.45" fill="#008000" stroke="#000" stroke-width="0.9"/>
<circle cx="463.72" cy="1045.38" r="4.45" fill="#008000" stroke="#000" stroke-width="0.9"/>
<circle cx="499.6" cy="1144.63" r="4.45" fill="#008000" stroke="#000" stroke-width="0.9"/>
<circle cx="535.48" cy="1128.35" r="4.45" fill="#008000" stroke="#000" stroke-width="0.9"/>
<circle cx="571.37" cy="1144.63" r="4.45" fill="#008000" stroke="#000" stroke-width="0.9"/>
<circle cx="607.25" cy="1145.7" r="4.45" fill="#008000" stroke="#000" stroke-width="0.9"/>
<circle cx="643.13" cy="1145.7" r="4.45" fill="#008000" stroke="#000" stroke-width="0.9"/>
<circle cx="679.02" cy="1145.7" r="4.45" fill="#008000" stroke="#000" stroke-width="0.9"/>
<path d="M104.88,1124.64 L140.77,1111.07 L176.65,681.96 L212.53,1029.32 L248.42,943.28 L284.3,1008.61 L320.18,1141.42 L356.07,1143.91 L391.95,1144.99 L427.83,1137.2 L463.72,1079.65 L499.6,1144.06 L535.48,1144.99 L571.37,1144.99 L607.25,1144.06 L643.13,1142.13 L679.02,1145.7" fill="none" stroke="#00bfbf" stroke-width="1.5" stroke-dasharray="8.85,8.85" stroke-linejoin="round" stroke-linecap="butt"/>
<circle cx="104.88" cy="1124.64" r="4.45" fill="#00bfbf" stroke="#000" stroke-width="0.9"/>
<circle cx="140.77" cy="1111.07" r="4.45" fill="#00bfbf" stroke="#000" stroke-width="0.9"/>
<circle cx="176.65" cy="681.96" r="4.45" fill="#00bfbf" stroke="#000" stroke-width="0.9"/>
<circle cx="212.53" cy="1029.32" r="4.45" fill="#00bfbf" stroke="#000" stroke-width="0.9"/>
<circle cx="248.42" cy="943.28" r="4.45" fill="#00bfbf" stroke="#000" stroke-width="0.9"/>
<circle cx="284.3" cy="1008.61" r="4.45" fill="#00bfbf" stroke="#000" stroke-width="0.9"/>
<circle cx="320.18" cy="1141.42" r="4.45" fill="#00bfbf" stroke="#000" stroke-width="0.9"/>
<circle cx="356.07" cy="1143.91" r="4.45" fill="#00bfbf" stroke="#000" stroke-width="0.9"/>
<circle cx="391.95" cy="1144.99" r="4.45" fill="#00bfbf" stroke="#000" stroke-width="0.9"/>
<circle cx="427.83" cy="1137.2" r="4.45" fill="#00bfbf" stroke="#000" stroke-width="0.9"/>
<circle cx="463.72" cy="1079.65" r="4.45" fill="#00bfbf" stroke="#000" stroke-width="0.9"/>
<circle cx="499.6" cy="1144.06" r="4.45" fill="#00bfbf" stroke="#000" stroke-width="0.9"/>
<circle cx="535.48" cy="1144.99" r="4.45" fill="#00bfbf" stroke="#000" stroke-width="0.9"/>
<circle cx="571.37" cy="1144.99" r="4.45" fill="#00bfbf" stroke="#000" stroke-width="0.9"/>
<circle cx="607.25" cy="1144.06" r="4.45" fill="#00bfbf" stroke="#000" stroke-width="0.9"/>
<circle cx="643.13" cy="1142.13" r="4.45" fill="#00bfbf" stroke="#000" stroke-width="0.9"/>
<circle cx="679.02" cy="1145.7" r="4.45" fill="#00bfbf" stroke="#000" stroke-width="0.9"/>
<path d="M104.88,1145.7 L140.77,1129.28 L176.65,1068.59 L212.53,1064.3 L248.42,825.11 L284.3,1131.78 L320.18,1140.77 L356.07,1140.49 L391.95,1144.27 L427.83,1144.27 L463.72,1100.72 L499.6,1129.53 L535.48,1144.06 L571.37,1143.91 L607.25,1110.18 L643.13,1129.53 L679.02,1144.27" fill="none" stroke="#bf00bf" stroke-width="1.5" stroke-dasharray="8.85,8.85" stroke-linejoin="round" stroke-linecap="butt"/>
<circle cx="104.88" cy="1145.7" r="4.45" fill="#bf00bf" stroke="#000" stroke-width="0.9"/>
<circle cx="140.77" cy="1129.28" r="4.45" fill="#bf00bf" stroke="#000" stroke-width="0.9"/>
<circle cx="176.65" cy="1068.59" r="4.45" fill="#bf00bf" stroke="#000" stroke-width="0.9"/>
<circle cx="212.53" cy="1064.3" r="4.45" fill="#bf00bf" stroke="#000" stroke-width="0.9"/>
<circle cx="248.42" cy="825.11" r="4.45" fill="#bf00bf" stroke="#000" stroke-width="0.9"/>
<circle cx="284.3" cy="1131.78" r="4.45" fill="#bf00bf" stroke="#000" stroke-width="0.9"/>
<circle cx="320.18" cy="1140.77" r="4.45" fill="#bf00bf" stroke="#000" stroke-width="0.9"/>
<circle cx="356.07" cy="1140.49" r="4.45" fill="#bf00bf" stroke="#000" stroke-width="0.9"/>
<circle cx="391.95" cy="1144.27" r="4.45" fill="#bf00bf" stroke="#000" stroke-width="0.9"/>
<circle cx="427.83" cy="1144.27" r="4.45" fill="#bf00bf" stroke="#000" stroke-width="0.9"/>
<circle cx="463.72" cy="1100.72" r="4.45" fill="#bf00bf" stroke="#000" stroke-width="0.9"/>
<circle cx="499.6" cy="1129.53" r="4.45" fill="#bf00bf" stroke="#000" stroke-width="0.9"/>
<circle cx="535.48" cy="1144.06" r="4.45" fill="#bf00bf" stroke="#000" stroke-width="0.9"/>
<circle cx="571.37" cy="1143.91" r="4.45" fill="#bf00bf" stroke="#000" stroke-width="0.9"/>
<circle cx="607.25" cy="1110.18" r="4.45" fill="#bf00bf" stroke="#000" stroke-width="0.9"/>
<circle cx="643.13" cy="1129.53" r="4.45" fill="#bf00bf" stroke="#000" stroke-width="0.9"/>
<circle cx="679.02" cy="1144.27" r="4.45" fill="#bf00bf" stroke="#000" stroke-width="0.9"/>
</g>
<path d="M69,1145.7v-6M69,645.9v6M140.77,1145.7v-6M140.77,645.9v6M212.53,1145.7v-6M212.53,645.9v6M284.3,1145.7v-6M284.3,645.9v6M356.07,1145.7v-6M356.07,645.9v6M427.83,1145.7v-6M427.83,645.9v6M499.6,1145.7v-6M499.6,645.9v6M571.37,1145.7v-6M571.37,645.9v6M643.13,1145.7v-6M643.13,645.9v6M714.9,1145.7v-6M714.9,645.9v6M69,1145.7h6M714.9,1145.7h-6M69,1074.3h6M714.9,1074.3h-6M69,1002.9h6M714.9,1002.9h-6M69,931.5h6M714.9,931.5h-6M69,860.1h6M714.9,860.1h-6M69,788.7h6M714.9,788.7h-6M69,717.3h6M714.9,717.3h-6M69,645.9h6M714.9,645.9h-6" stroke="#000" stroke-width="0.75" fill="none"/>
<rect x="69" y="645.9" width="645.9" height="499.8" fill="none" stroke="#000" stroke-width="1.8"/>
<g font-size="17.7"><text x="69" y="1164.8" text-anchor="middle">22</text><text x="140.77" y="1164.8" text-anchor="middle">24</text><text x="212.53" y="1164.8" text-anchor="middle">26</text><text x="284.3" y="1164.8" text-anchor="middle">28</text><text x="356.07" y="1164.8" text-anchor="middle">30</text><text x="427.83" y="1164.8" text-anchor="middle">32</text><text x="499.6" y="1164.8" text-anchor="middle">34</text><text x="571.37" y="1164.8" text-anchor="middle">36</text><text x="643.13" y="1164.8" text-anchor="middle">38</text><text x="714.9" y="1164.8" text-anchor="middle">40</text><text x="63" y="1150.6" text-anchor="end">0</text><text x="63" y="1079.2" text-anchor="end">2</text><text x="63" y="1007.8" text-anchor="end">4</text><text x="63" y="936.4" text-anchor="end">6</text><text x="63" y="865" text-anchor="end">8</text><text x="63" y="793.6" text-anchor="end">10</text><text x="63" y="722.2" text-anchor="end">12</text><text x="63" y="650.8" text-anchor="end">14</text><text x="392.65" y="1188.8" text-anchor="middle">week_code</text><text transform="translate(30.3,895.8) rotate(-90)" text-anchor="middle">perceent of reads</text></g>
<text x="82.35" y="683" font-size="34.4" font-weight="bold" font-family="Liberation Sans, Arial, sans-serif">C</text>
<clipPath id="c4"><rect x="858.9" y="646.5" width="644.6" height="498.6"/></clipPath>
<g clip-path="url(#c4)">
<path d="M965.93,1135.7 L1001.81,1041.31 L1073.57,991.26 L1217.08,1074.37 L1252.96,892.52 L1288.83,942.64 L1324.71,855.17 L1360.59,793.98 L1396.47,792.27 L1432.34,817.9 L1468.22,852.96" fill="none" stroke="#0000ff" stroke-width="1.5" stroke-linejoin="round" stroke-linecap="butt"/>
<circle cx="965.93" cy="1135.7" r="4.45" fill="#0000ff" stroke="#000" stroke-width="0.9"/>
<circle cx="1001.81" cy="1041.31" r="4.45" fill="#0000ff" stroke="#000" stroke-width="0.9"/>
<circle cx="1073.57" cy="991.26" r="4.45" fill="#0000ff" stroke="#000" stroke-width="0.9"/>
<circle cx="1217.08" cy="1074.37" r="4.45" fill="#0000ff" stroke="#000" stroke-width="0.9"/>
<circle cx="1252.96" cy="892.52" r="4.45" fill="#0000ff" stroke="#000" stroke-width="0.9"/>
<circle cx="1288.83" cy="942.64" r="4.45" fill="#0000ff" stroke="#000" stroke-width="0.9"/>
<circle cx="1324.71" cy="855.17" r="4.45" fill="#0000ff" stroke="#000" stroke-width="0.9"/>
<circle cx="1360.59" cy="793.98" r="4.45" fill="#0000ff" stroke="#000" stroke-width="0.9"/>
<circle cx="1396.47" cy="792.27" r="4.45" fill="#0000ff" stroke="#000" stroke-width="0.9"/>
<circle cx="1432.34" cy="817.9" r="4.45" fill="#0000ff" stroke="#000" stroke-width="0.9"/>
<circle cx="1468.22" cy="852.96" r="4.45" fill="#0000ff" stroke="#000" stroke-width="0.9"/>
<path d="M894.18,1142.13 L930.06,1144.27 L965.93,1057.88 L1001.81,1142.13 L1037.69,1111.29 L1073.57,1043.38 L1109.44,850.39 L1145.32,1043.81 L1181.2,988.41 L1217.08,1069.52 L1252.96,1027.03 L1288.83,1018.32 L1324.71,983.76 L1360.59,785.84 L1396.47,796.55 L1432.34,967.7 L1468.22,853.03" fill="none" stroke="#ff0000" stroke-width="1.5" stroke-linejoin="round" stroke-linecap="butt"/>
<circle cx="894.18" cy="1142.13" r="4.45" fill="#ff0000" stroke="#000" stroke-width="0.9"/>
<circle cx="930.06" cy="1144.27" r="4.45" fill="#ff0000" stroke="#000" stroke-width="0.9"/>
<circle cx="965.93" cy="1057.88" r="4.45" fill="#ff0000" stroke="#000" stroke-width="0.9"/>
<circle cx="1001.81" cy="1142.13" r="4.45" fill="#ff0000" stroke="#000" stroke-width="0.9"/>
<circle cx="1037.69" cy="1111.29" r="4.45" fill="#ff0000" stroke="#000" stroke-width="0.9"/>
<circle cx="1073.57" cy="1043.38" r="4.45" fill="#ff0000" stroke="#000" stroke-width="0.9"/>
<circle cx="1109.44" cy="850.39" r="4.45" fill="#ff0000" stroke="#000" stroke-width="0.9"/>
<circle cx="1145.32" cy="1043.81" r="4.45" fill="#ff0000" stroke="#000" stroke-width="0.9"/>
<circle cx="1181.2" cy="988.41" r="4.45" fill="#ff0000" stroke="#000" stroke-width="0.9"/>
<circle cx="1217.08" cy="1069.52" r="4.45" fill="#ff0000" stroke="#000" stroke-width="0.9"/>
<circle cx="1252.96" cy="1027.03" r="4.45" fill="#ff0000" stroke="#000" stroke-width="0.9"/>
<circle cx="1288.83" cy="1018.32" r="4.45" fill="#ff0000" stroke="#000" stroke-width="0.9"/>
<circle cx="1324.71" cy="983.76" r="4.45" fill="#ff0000" stroke="#000" stroke-width="0.9"/>
<circle cx="1360.59" cy="785.84" r="4.45" fill="#ff0000" stroke="#000" stroke-width="0.9"/>
<circle cx="1396.47" cy="796.55" r="4.45" fill="#ff0000" stroke="#000" stroke-width="0.9"/>
<circle cx="1432.34" cy="967.7" r="4.45" fill="#ff0000" stroke="#000" stroke-width="0.9"/>
<circle cx="1468.22" cy="853.03" r="4.45" fill="#ff0000" stroke="#000" stroke-width="0.9"/>
<path d="M894.18,1143.56 L930.06,1144.27 L965.93,1135.49 L1001.81,1137.49 L1037.69,1079.58 L1073.57,1068.23 L1109.44,1039.31 L1145.32,846.89 L1181.2,1031.6 L1217.08,1025.96 L1252.96,959.85 L1288.83,999.12 L1324.71,975.2 L1360.59,685.03 L1396.47,877.24 L1432.34,899.58 L1468.22,1082.3" fill="none" stroke="#000000" stroke-width="1.5" stroke-linejoin="round" stroke-linecap="butt"/>
<circle cx="894.18" cy="1143.56" r="4.45" fill="#000000" stroke="#000" stroke-width="0.9"/>
<circle cx="930.06" cy="1144.27" r="4.45" fill="#000000" stroke="#000" stroke-width="0.9"/>
<circle cx="965.93" cy="1135.49" r="4.45" fill="#000000" stroke="#000" stroke-width="0.9"/>
<circle cx="1001.81" cy="1137.49" r="4.45" fill="#000000" stroke="#000" stroke-width="0.9"/>
<circle cx="1037.69" cy="1079.58" r="4.45" fill="#000000" stroke="#000" stroke-width="0.9"/>
<circle cx="1073.57" cy="1068.23" r="4.45" fill="#000000" stroke="#000" stroke-width="0.9"/>
<circle cx="1109.44" cy="1039.31" r="4.45" fill="#000000" stroke="#000" stroke-width="0.9"/>
<circle cx="1145.32" cy="846.89" r="4.45" fill="#000000" stroke="#000" stroke-width="0.9"/>
<circle cx="1181.2" cy="1031.6" r="4.45" fill="#000000" stroke="#000" stroke-width="0.9"/>
<circle cx="1217.08" cy="1025.96" r="4.45" fill="#000000" stroke="#000" stroke-width="0.9"/>
<circle cx="1252.96" cy="959.85" r="4.45" fill="#000000" stroke="#000" stroke-width="0.9"/>
<circle cx="1288.83" cy="999.12" r="4.45" fill="#000000" stroke="#000" stroke-width="0.9"/>
<circle cx="1324.71" cy="975.2" r="4.45" fill="#000000" stroke="#000" stroke-width="0.9"/>
<circle cx="1360.59" cy="685.03" r="4.45" fill="#000000" stroke="#000" stroke-width="0.9"/>
<circle cx="1396.47" cy="877.24" r="4.45" fill="#000000" stroke="#000" stroke-width="0.9"/>
<circle cx="1432.34" cy="899.58" r="4.45" fill="#000000" stroke="#000" stroke-width="0.9"/>
<circle cx="1468.22" cy="1082.3" r="4.45" fill="#000000" stroke="#000" stroke-width="0.9"/>
<path d="M1001.81,1144.27 L1037.69,1131.42 L1073.57,1131.42 L1109.44,1144.99 L1145.32,1133.99 L1181.2,1138.99 L1217.08,1127.71 L1252.96,1086.08 L1288.83,1098.93 L1324.71,1137.27 L1360.59,1110 L1396.47,1073.3 L1432.34,1143.56 L1468.22,1143.7" fill="none" stroke="#008000" stroke-width="1.5" stroke-dasharray="8.85,8.85" stroke-linejoin="round" stroke-linecap="butt"/>
<circle cx="1001.81" cy="1144.27" r="4.45" fill="#008000" stroke="#000" stroke-width="0.9"/>
<circle cx="1037.69" cy="1131.42" r="4.45" fill="#008000" stroke="#000" stroke-width="0.9"/>
<circle cx="1073.57" cy="1131.42" r="4.45" fill="#008000" stroke="#000" stroke-width="0.9"/>
<circle cx="1109.44" cy="1144.99" r="4.45" fill="#008000" stroke="#000" stroke-width="0.9"/>
<circle cx="1145.32" cy="1133.99" r="4.45" fill="#008000" stroke="#000" stroke-width="0.9"/>
<circle cx="1181.2" cy="1138.99" r="4.45" fill="#008000" stroke="#000" stroke-width="0.9"/>
<circle cx="1217.08" cy="1127.71" r="4.45" fill="#008000" stroke="#000" stroke-width="0.9"/>
<circle cx="1252.96" cy="1086.08" r="4.45" fill="#008000" stroke="#000" stroke-width="0.9"/>
<circle cx="1288.83" cy="1098.93" r="4.45" fill="#008000" stroke="#000" stroke-width="0.9"/>
<circle cx="1324.71" cy="1137.27" r="4.45" fill="#008000" stroke="#000" stroke-width="0.9"/>
<circle cx="1360.59" cy="1110" r="4.45" fill="#008000" stroke="#000" stroke-width="0.9"/>
<circle cx="1396.47" cy="1073.3" r="4.45" fill="#008000" stroke="#000" stroke-width="0.9"/>
<circle cx="1432.34" cy="1143.56" r="4.45" fill="#008000" stroke="#000" stroke-width="0.9"/>
<circle cx="1468.22" cy="1143.7" r="4.45" fill="#008000" stroke="#000" stroke-width="0.9"/>
<path d="M1001.81,1144.27 L1037.69,1128.21 L1073.57,1143.56 L1109.44,1142.84 L1145.32,1119.28 L1181.2,1124.07 L1217.08,1140.49 L1252.96,1110.64 L1288.83,1138.42 L1324.71,1099.58 L1360.59,1128.14 L1396.47,1061.59 L1432.34,1143.56 L1468.22,1135.78" fill="none" stroke="#00bfbf" stroke-width="1.5" stroke-dasharray="8.85,8.85" stroke-linejoin="round" stroke-linecap="butt"/>
<circle cx="1001.81" cy="1144.27" r="4.45" fill="#00bfbf" stroke="#000" stroke-width="0.9"/>
<circle cx="1037.69" cy="1128.21" r="4.45" fill="#00bfbf" stroke="#000" stroke-width="0.9"/>
<circle cx="1073.57" cy="1143.56" r="4.45" fill="#00bfbf" stroke="#000" stroke-width="0.9"/>
<circle cx="1109.44" cy="1142.84" r="4.45" fill="#00bfbf" stroke="#000" stroke-width="0.9"/>
<circle cx="1145.32" cy="1119.28" r="4.45" fill="#00bfbf" stroke="#000" stroke-width="0.9"/>
<circle cx="1181.2" cy="1124.07" r="4.45" fill="#00bfbf" stroke="#000" stroke-width="0.9"/>
<circle cx="1217.08" cy="1140.49" r="4.45" fill="#00bfbf" stroke="#000" stroke-width="0.9"/>
<circle cx="1252.96" cy="1110.64" r="4.45" fill="#00bfbf" stroke="#000" stroke-width="0.9"/>
<circle cx="1288.83" cy="1138.42" r="4.45" fill="#00bfbf" stroke="#000" stroke-width="0.9"/>
<circle cx="1324.71" cy="1099.58" r="4.45" fill="#00bfbf" stroke="#000" stroke-width="0.9"/>
<circle cx="1360.59" cy="1128.14" r="4.45" fill="#00bfbf" stroke="#000" stroke-width="0.9"/>
<circle cx="1396.47" cy="1061.59" r="4.45" fill="#00bfbf" stroke="#000" stroke-width="0.9"/>
<circle cx="1432.34" cy="1143.56" r="4.45" fill="#00bfbf" stroke="#000" stroke-width="0.9"/>
<circle cx="1468.22" cy="1135.78" r="4.45" fill="#00bfbf" stroke="#000" stroke-width="0.9"/>
<path d="M894.18,1143.7 L930.06,1143.56 L965.93,1143.56 L1001.81,1143.56 L1037.69,1144.27 L1073.57,1143.56 L1109.44,1142.7 L1145.32,1142.7 L1181.2,1143.06 L1217.08,1116 L1252.96,1142.63 L1288.83,1108.07 L1324.71,1142.2 L1360.59,1109.57 L1396.47,1049.38 L1432.34,1141.56 L1468.22,1144.27" fill="none" stroke="#bf00bf" stroke-width="1.5" stroke-dasharray="8.85,8.85" stroke-linejoin="round" stroke-linecap="butt"/>
<circle cx="894.18" cy="1143.7" r="4.45" fill="#bf00bf" stroke="#000" stroke-width="0.9"/>
<circle cx="930.06" cy="1143.56" r="4.45" fill="#bf00bf" stroke="#000" stroke-width="0.9"/>
<circle cx="965.93" cy="1143.56" r="4.45" fill="#bf00bf" stroke="#000" stroke-width="0.9"/>
<circle cx="1001.81" cy="1143.56" r="4.45" fill="#bf00bf" stroke="#000" stroke-width="0.9"/>
<circle cx="1037.69" cy="1144.27" r="4.45" fill="#bf00bf" stroke="#000" stroke-width="0.9"/>
<circle cx="1073.57" cy="1143.56" r="4.45" fill="#bf00bf" stroke="#000" stroke-width="0.9"/>
<circle cx="1109.44" cy="1142.7" r="4.45" fill="#bf00bf" stroke="#000" stroke-width="0.9"/>
<circle cx="1145.32" cy="1142.7" r="4.45" fill="#bf00bf" stroke="#000" stroke-width="0.9"/>
<circle cx="1181.2" cy="1143.06" r="4.45" fill="#bf00bf" stroke="#000" stroke-width="0.9"/>
<circle cx="1217.08" cy="1116" r="4.45" fill="#bf00bf" stroke="#000" stroke-width="0.9"/>
<circle cx="1252.96" cy="1142.63" r="4.45" fill="#bf00bf" stroke="#000" stroke-width="0.9"/>
<circle cx="1288.83" cy="1108.07" r="4.45" fill="#bf00bf" stroke="#000" stroke-width="0.9"/>
<circle cx="1324.71" cy="1142.2" r="4.45" fill="#bf00bf" stroke="#000" stroke-width="0.9"/>
<circle cx="1360.59" cy="1109.57" r="4.45" fill="#bf00bf" stroke="#000" stroke-width="0.9"/>
<circle cx="1396.47" cy="1049.38" r="4.45" fill="#bf00bf" stroke="#000" stroke-width="0.9"/>
<circle cx="1432.34" cy="1141.56" r="4.45" fill="#bf00bf" stroke="#000" stroke-width="0.9"/>
<circle cx="1468.22" cy="1144.27" r="4.45" fill="#bf00bf" stroke="#000" stroke-width="0.9"/>
</g>
<path d="M858.3,1145.7v-6M858.3,645.9v6M930.06,1145.7v-6M930.06,645.9v6M1001.81,1145.7v-6M1001.81,645.9v6M1073.57,1145.7v-6M1073.57,645.9v6M1145.32,1145.7v-6M1145.32,645.9v6M1217.08,1145.7v-6M1217.08,645.9v6M1288.83,1145.7v-6M1288.83,645.9v6M1360.59,1145.7v-6M1360.59,645.9v6M1432.34,1145.7v-6M1432.34,645.9v6M1504.1,1145.7v-6M1504.1,645.9v6M858.3,1145.7h6M1504.1,1145.7h-6M858.3,1074.3h6M1504.1,1074.3h-6M858.3,1002.9h6M1504.1,1002.9h-6M858.3,931.5h6M1504.1,931.5h-6M858.3,860.1h6M1504.1,860.1h-6M858.3,788.7h6M1504.1,788.7h-6M858.3,717.3h6M1504.1,717.3h-6M858.3,645.9h6M1504.1,645.9h-6" stroke="#000" stroke-width="0.75" fill="none"/>
<rect x="858.3" y="645.9" width="645.8" height="499.8" fill="none" stroke="#000" stroke-width="1.8"/>
<g font-size="17.7"><text x="858.3" y="1164.8" text-anchor="middle">22</text><text x="930.06" y="1164.8" text-anchor="middle">24</text><text x="1001.81" y="1164.8" text-anchor="middle">26</text><text x="1073.57" y="1164.8" text-anchor="middle">28</text><text x="1145.32" y="1164.8" text-anchor="middle">30</text><text x="1217.08" y="1164.8" text-anchor="middle">32</text><text x="1288.83" y="1164.8" text-anchor="middle">34</text><text x="1360.59" y="1164.8" text-anchor="middle">36</text><text x="1432.34" y="1164.8" text-anchor="middle">38</text><text x="1504.1" y="1164.8" text-anchor="middle">40</text><text x="852.3" y="1150.6" text-anchor="end">0</text><text x="852.3" y="1079.2" text-anchor="end">10</text><text x="852.3" y="1007.8" text-anchor="end">20</text><text x="852.3" y="936.4" text-anchor="end">30</text><text x="852.3" y="865" text-anchor="end">40</text><text x="852.3" y="793.6" text-anchor="end">50</text><text x="852.3" y="722.2" text-anchor="end">60</text><text x="852.3" y="650.8" text-anchor="end">70</text><text x="1181.9" y="1188.8" text-anchor="middle">week_code</text><text transform="translate(819.8,895.8) rotate(-90)" text-anchor="middle">perceent of reads</text></g>
<text x="875.1" y="687.8" font-size="34.4" font-weight="bold" font-family="Liberation Sans, Arial, sans-serif">D</text>
<clipPath id="c5"><rect x="69.6" y="1271.5" width="644.7" height="498.8"/></clipPath>
<g clip-path="url(#c5)">
<path d="M320.18,1768.4 L427.83,1760.5 L463.72,1769.4 L499.6,1766.4 L535.48,1769.4 L571.37,1746.4 L607.25,1770.9 L643.13,1770.9 L679.02,1758.4" fill="none" stroke="#0000ff" stroke-width="1.5" stroke-linejoin="round" stroke-linecap="butt"/>
<circle cx="320.18" cy="1768.4" r="4.45" fill="#0000ff" stroke="#000" stroke-width="0.9"/>
<circle cx="427.83" cy="1760.5" r="4.45" fill="#0000ff" stroke="#000" stroke-width="0.9"/>
<circle cx="463.72" cy="1769.4" r="4.45" fill="#0000ff" stroke="#000" stroke-width="0.9"/>
<circle cx="499.6" cy="1766.4" r="4.45" fill="#0000ff" stroke="#000" stroke-width="0.9"/>
<circle cx="535.48" cy="1769.4" r="4.45" fill="#0000ff" stroke="#000" stroke-width="0.9"/>
<circle cx="571.37" cy="1746.4" r="4.45" fill="#0000ff" stroke="#000" stroke-width="0.9"/>
<circle cx="607.25" cy="1770.9" r="4.45" fill="#0000ff" stroke="#000" stroke-width="0.9"/>
<circle cx="643.13" cy="1770.9" r="4.45" fill="#0000ff" stroke="#000" stroke-width="0.9"/>
<circle cx="679.02" cy="1758.4" r="4.45" fill="#0000ff" stroke="#000" stroke-width="0.9"/>
<path d="M104.88,1751.9 L140.77,1770.9 L176.65,1767.9 L212.53,1759.6 L248.42,1770.9 L284.3,1769.5 L320.18,1770.9 L356.07,1769.4 L391.95,1731.1 L427.83,1765.9 L463.72,1769.9 L499.6,1763.9 L535.48,1763.9 L571.37,1769.4 L607.25,1770.9 L643.13,1761.7 L679.02,1758" fill="none" stroke="#ff0000" stroke-width="1.5" stroke-linejoin="round" stroke-linecap="butt"/>
<circle cx="104.88" cy="1751.9" r="4.45" fill="#ff0000" stroke="#000" stroke-width="0.9"/>
<circle cx="140.77" cy="1770.9" r="4.45" fill="#ff0000" stroke="#000" stroke-width="0.9"/>
<circle cx="176.65" cy="1767.9" r="4.45" fill="#ff0000" stroke="#000" stroke-width="0.9"/>
<circle cx="212.53" cy="1759.6" r="4.45" fill="#ff0000" stroke="#000" stroke-width="0.9"/>
<circle cx="248.42" cy="1770.9" r="4.45" fill="#ff0000" stroke="#000" stroke-width="0.9"/>
<circle cx="284.3" cy="1769.5" r="4.45" fill="#ff0000" stroke="#000" stroke-width="0.9"/>
<circle cx="320.18" cy="1770.9" r="4.45" fill="#ff0000" stroke="#000" stroke-width="0.9"/>
<circle cx="356.07" cy="1769.4" r="4.45" fill="#ff0000" stroke="#000" stroke-width="0.9"/>
<circle cx="391.95" cy="1731.1" r="4.45" fill="#ff0000" stroke="#000" stroke-width="0.9"/>
<circle cx="427.83" cy="1765.9" r="4.45" fill="#ff0000" stroke="#000" stroke-width="0.9"/>
<circle cx="463.72" cy="1769.9" r="4.45" fill="#ff0000" stroke="#000" stroke-width="0.9"/>
<circle cx="499.6" cy="1763.9" r="4.45" fill="#ff0000" stroke="#000" stroke-width="0.9"/>
<circle cx="535.48" cy="1763.9" r="4.45" fill="#ff0000" stroke="#000" stroke-width="0.9"/>
<circle cx="571.37" cy="1769.4" r="4.45" fill="#ff0000" stroke="#000" stroke-width="0.9"/>
<circle cx="607.25" cy="1770.9" r="4.45" fill="#ff0000" stroke="#000" stroke-width="0.9"/>
<circle cx="643.13" cy="1761.7" r="4.45" fill="#ff0000" stroke="#000" stroke-width="0.9"/>
<circle cx="679.02" cy="1758" r="4.45" fill="#ff0000" stroke="#000" stroke-width="0.9"/>
<path d="M104.88,1770.4 L140.77,1770.4 L176.65,1768.4 L212.53,1770.15 L248.42,1770.15 L284.3,1759.2 L320.18,1769.5 L356.07,1769.9 L391.95,1768.9 L427.83,1764.9 L463.72,1768.4 L499.6,1767.9 L535.48,1762.5 L571.37,1768.4 L607.25,1769.9 L643.13,1769.9 L679.02,1768.4" fill="none" stroke="#000000" stroke-width="1.5" stroke-linejoin="round" stroke-linecap="butt"/>
<circle cx="104.88" cy="1770.4" r="4.45" fill="#000000" stroke="#000" stroke-width="0.9"/>
<circle cx="140.77" cy="1770.4" r="4.45" fill="#000000" stroke="#000" stroke-width="0.9"/>
<circle cx="176.65" cy="1768.4" r="4.45" fill="#000000" stroke="#000" stroke-width="0.9"/>
<circle cx="212.53" cy="1770.15" r="4.45" fill="#000000" stroke="#000" stroke-width="0.9"/>
<circle cx="248.42" cy="1770.15" r="4.45" fill="#000000" stroke="#000" stroke-width="0.9"/>
<circle cx="284.3" cy="1759.2" r="4.45" fill="#000000" stroke="#000" stroke-width="0.9"/>
<circle cx="320.18" cy="1769.5" r="4.45" fill="#000000" stroke="#000" stroke-width="0.9"/>
<circle cx="356.07" cy="1769.9" r="4.45" fill="#000000" stroke="#000" stroke-width="0.9"/>
<circle cx="391.95" cy="1768.9" r="4.45" fill="#000000" stroke="#000" stroke-width="0.9"/>
<circle cx="427.83" cy="1764.9" r="4.45" fill="#000000" stroke="#000" stroke-width="0.9"/>
<circle cx="463.72" cy="1768.4" r="4.45" fill="#000000" stroke="#000" stroke-width="0.9"/>
<circle cx="499.6" cy="1767.9" r="4.45" fill="#000000" stroke="#000" stroke-width="0.9"/>
<circle cx="535.48" cy="1762.5" r="4.45" fill="#000000" stroke="#000" stroke-width="0.9"/>
<circle cx="571.37" cy="1768.4" r="4.45" fill="#000000" stroke="#000" stroke-width="0.9"/>
<circle cx="607.25" cy="1769.9" r="4.45" fill="#000000" stroke="#000" stroke-width="0.9"/>
<circle cx="643.13" cy="1769.9" r="4.45" fill="#000000" stroke="#000" stroke-width="0.9"/>
<circle cx="679.02" cy="1768.4" r="4.45" fill="#000000" stroke="#000" stroke-width="0.9"/>
<path d="M176.65,1679.2 L212.53,1646.7 L248.42,1573.8 L284.3,1578.4 L320.18,1619.6 L356.07,1625.5 L391.95,1668.6 L427.83,1579.4 L463.72,1615.4 L499.6,1549.1 L535.48,1520.4 L571.37,1472.6 L607.25,1459.4 L643.13,1424.8 L679.02,1450.3" fill="none" stroke="#008000" stroke-width="1.5" stroke-dasharray="8.85,8.85" stroke-linejoin="round" stroke-linecap="butt"/>
<circle cx="176.65" cy="1679.2" r="4.45" fill="#008000" stroke="#000" stroke-width="0.9"/>
<circle cx="212.53" cy="1646.7" r="4.45" fill="#008000" stroke="#000" stroke-width="0.9"/>
<circle cx="248.42" cy="1573.8" r="4.45" fill="#008000" stroke="#000" stroke-width="0.9"/>
<circle cx="284.3" cy="1578.4" r="4.45" fill="#008000" stroke="#000" stroke-width="0.9"/>
<circle cx="320.18" cy="1619.6" r="4.45" fill="#008000" stroke="#000" stroke-width="0.9"/>
<circle cx="356.07" cy="1625.5" r="4.45" fill="#008000" stroke="#000" stroke-width="0.9"/>
<circle cx="391.95" cy="1668.6" r="4.45" fill="#008000" stroke="#000" stroke-width="0.9"/>
<circle cx="427.83" cy="1579.4" r="4.45" fill="#008000" stroke="#000" stroke-width="0.9"/>
<circle cx="463.72" cy="1615.4" r="4.45" fill="#008000" stroke="#000" stroke-width="0.9"/>
<circle cx="499.6" cy="1549.1" r="4.45" fill="#008000" stroke="#000" stroke-width="0.9"/>
<circle cx="535.48" cy="1520.4" r="4.45" fill="#008000" stroke="#000" stroke-width="0.9"/>
<circle cx="571.37" cy="1472.6" r="4.45" fill="#008000" stroke="#000" stroke-width="0.9"/>
<circle cx="607.25" cy="1459.4" r="4.45" fill="#008000" stroke="#000" stroke-width="0.9"/>
<circle cx="643.13" cy="1424.8" r="4.45" fill="#008000" stroke="#000" stroke-width="0.9"/>
<circle cx="679.02" cy="1450.3" r="4.45" fill="#008000" stroke="#000" stroke-width="0.9"/>
<path d="M104.88,1394.7 L140.77,1577.9 L176.65,1593.3 L212.53,1561.3 L248.42,1513.3 L284.3,1496.8 L320.18,1692.8 L356.07,1618.9 L391.95,1564.8 L427.83,1533.5 L463.72,1555.3 L499.6,1557.7 L535.48,1544.5 L571.37,1500.2 L607.25,1411.4 L643.13,1463.2 L679.02,1463.2" fill="none" stroke="#00bfbf" stroke-width="1.5" stroke-dasharray="8.85,8.85" stroke-linejoin="round" stroke-linecap="butt"/>
<circle cx="104.88" cy="1394.7" r="4.45" fill="#00bfbf" stroke="#000" stroke-width="0.9"/>
<circle cx="140.77" cy="1577.9" r="4.45" fill="#00bfbf" stroke="#000" stroke-width="0.9"/>
<circle cx="176.65" cy="1593.3" r="4.45" fill="#00bfbf" stroke="#000" stroke-width="0.9"/>
<circle cx="212.53" cy="1561.3" r="4.45" fill="#00bfbf" stroke="#000" stroke-width="0.9"/>
<circle cx="248.42" cy="1513.3" r="4.45" fill="#00bfbf" stroke="#000" stroke-width="0.9"/>
<circle cx="284.3" cy="1496.8" r="4.45" fill="#00bfbf" stroke="#000" stroke-width="0.9"/>
<circle cx="320.18" cy="1692.8" r="4.45" fill="#00bfbf" stroke="#000" stroke-width="0.9"/>
<circle cx="356.07" cy="1618.9" r="4.45" fill="#00bfbf" stroke="#000" stroke-width="0.9"/>
<circle cx="391.95" cy="1564.8" r="4.45" fill="#00bfbf" stroke="#000" stroke-width="0.9"/>
<circle cx="427.83" cy="1533.5" r="4.45" fill="#00bfbf" stroke="#000" stroke-width="0.9"/>
<circle cx="463.72" cy="1555.3" r="4.45" fill="#00bfbf" stroke="#000" stroke-width="0.9"/>
<circle cx="499.6" cy="1557.7" r="4.45" fill="#00bfbf" stroke="#000" stroke-width="0.9"/>
<circle cx="535.48" cy="1544.5" r="4.45" fill="#00bfbf" stroke="#000" stroke-width="0.9"/>
<circle cx="571.37" cy="1500.2" r="4.45" fill="#00bfbf" stroke="#000" stroke-width="0.9"/>
<circle cx="607.25" cy="1411.4" r="4.45" fill="#00bfbf" stroke="#000" stroke-width="0.9"/>
<circle cx="643.13" cy="1463.2" r="4.45" fill="#00bfbf" stroke="#000" stroke-width="0.9"/>
<circle cx="679.02" cy="1463.2" r="4.45" fill="#00bfbf" stroke="#000" stroke-width="0.9"/>
<path d="M104.88,1564.1 L140.77,1644.5 L176.65,1681.8 L212.53,1716.4 L248.42,1758.1 L284.3,1669.8 L320.18,1702.8 L356.07,1674.8 L391.95,1630.5 L427.83,1557.7 L463.72,1518.8 L499.6,1513.4 L535.48,1549.6 L571.37,1434.2 L607.25,1521.7 L643.13,1464.5 L679.02,1314.2" fill="none" stroke="#bf00bf" stroke-width="1.5" stroke-dasharray="8.85,8.85" stroke-linejoin="round" stroke-linecap="butt"/>
<circle cx="104.88" cy="1564.1" r="4.45" fill="#bf00bf" stroke="#000" stroke-width="0.9"/>
<circle cx="140.77" cy="1644.5" r="4.45" fill="#bf00bf" stroke="#000" stroke-width="0.9"/>
<circle cx="176.65" cy="1681.8" r="4.45" fill="#bf00bf" stroke="#000" stroke-width="0.9"/>
<circle cx="212.53" cy="1716.4" r="4.45" fill="#bf00bf" stroke="#000" stroke-width="0.9"/>
<circle cx="248.42" cy="1758.1" r="4.45" fill="#bf00bf" stroke="#000" stroke-width="0.9"/>
<circle cx="284.3" cy="1669.8" r="4.45" fill="#bf00bf" stroke="#000" stroke-width="0.9"/>
<circle cx="320.18" cy="1702.8" r="4.45" fill="#bf00bf" stroke="#000" stroke-width="0.9"/>
<circle cx="356.07" cy="1674.8" r="4.45" fill="#bf00bf" stroke="#000" stroke-width="0.9"/>
<circle cx="391.95" cy="1630.5" r="4.45" fill="#bf00bf" stroke="#000" stroke-width="0.9"/>
<circle cx="427.83" cy="1557.7" r="4.45" fill="#bf00bf" stroke="#000" stroke-width="0.9"/>
<circle cx="463.72" cy="1518.8" r="4.45" fill="#bf00bf" stroke="#000" stroke-width="0.9"/>
<circle cx="499.6" cy="1513.4" r="4.45" fill="#bf00bf" stroke="#000" stroke-width="0.9"/>
<circle cx="535.48" cy="1549.6" r="4.45" fill="#bf00bf" stroke="#000" stroke-width="0.9"/>
<circle cx="571.37" cy="1434.2" r="4.45" fill="#bf00bf" stroke="#000" stroke-width="0.9"/>
<circle cx="607.25" cy="1521.7" r="4.45" fill="#bf00bf" stroke="#000" stroke-width="0.9"/>
<circle cx="643.13" cy="1464.5" r="4.45" fill="#bf00bf" stroke="#000" stroke-width="0.9"/>
<circle cx="679.02" cy="1314.2" r="4.45" fill="#bf00bf" stroke="#000" stroke-width="0.9"/>
</g>
<path d="M69,1770.9v-6M69,1270.9v6M140.77,1770.9v-6M140.77,1270.9v6M212.53,1770.9v-6M212.53,1270.9v6M284.3,1770.9v-6M284.3,1270.9v6M356.07,1770.9v-6M356.07,1270.9v6M427.83,1770.9v-6M427.83,1270.9v6M499.6,1770.9v-6M499.6,1270.9v6M571.37,1770.9v-6M571.37,1270.9v6M643.13,1770.9v-6M643.13,1270.9v6M714.9,1770.9v-6M714.9,1270.9v6M69,1770.9h6M714.9,1770.9h-6M69,1670.9h6M714.9,1670.9h-6M69,1570.9h6M714.9,1570.9h-6M69,1470.9h6M714.9,1470.9h-6M69,1370.9h6M714.9,1370.9h-6M69,1270.9h6M714.9,1270.9h-6" stroke="#000" stroke-width="0.75" fill="none"/>
<rect x="69" y="1270.9" width="645.9" height="500" fill="none" stroke="#000" stroke-width="1.8"/>
<g font-size="17.7"><text x="69" y="1790" text-anchor="middle">22</text><text x="140.77" y="1790" text-anchor="middle">24</text><text x="212.53" y="1790" text-anchor="middle">26</text><text x="284.3" y="1790" text-anchor="middle">28</text><text x="356.07" y="1790" text-anchor="middle">30</text><text x="427.83" y="1790" text-anchor="middle">32</text><text x="499.6" y="1790" text-anchor="middle">34</text><text x="571.37" y="1790" text-anchor="middle">36</text><text x="643.13" y="1790" text-anchor="middle">38</text><text x="714.9" y="1790" text-anchor="middle">40</text><text x="63" y="1775.8" text-anchor="end">0</text><text x="63" y="1675.8" text-anchor="end">20</text><text x="63" y="1575.8" text-anchor="end">40</text><text x="63" y="1475.8" text-anchor="end">60</text><text x="63" y="1375.8" text-anchor="end">80</text><text x="63" y="1275.8" text-anchor="end">100</text><text x="392.65" y="1814" text-anchor="middle">week_code</text><text transform="translate(19.5,1520.9) rotate(-90)" text-anchor="middle">perceent of reads</text></g>
<text x="82.6" y="1315.6" font-size="34.4" font-weight="bold" font-family="Liberation Sans, Arial, sans-serif">E</text>
<clipPath id="c6"><rect x="852.6" y="1248.4" width="677.7" height="524.5"/></clipPath>
<g clip-path="url(#c6)">
<path d="M1123.56,1773.5 L1259.34,1679.79 L1293.29,1609.22 L1327.23,1721.19 L1361.18,1710.94 L1395.12,1621.84 L1429.07,1773.5 L1463.01,1720.93 L1496.96,1773.5" fill="none" stroke="#0000ff" stroke-width="1.5" stroke-linejoin="round" stroke-linecap="butt"/>
<circle cx="1123.56" cy="1773.5" r="4.45" fill="#0000ff" stroke="#000" stroke-width="0.9"/>
<circle cx="1259.34" cy="1679.79" r="4.45" fill="#0000ff" stroke="#000" stroke-width="0.9"/>
<circle cx="1293.29" cy="1609.22" r="4.45" fill="#0000ff" stroke="#000" stroke-width="0.9"/>
<circle cx="1327.23" cy="1721.19" r="4.45" fill="#0000ff" stroke="#000" stroke-width="0.9"/>
<circle cx="1361.18" cy="1710.94" r="4.45" fill="#0000ff" stroke="#000" stroke-width="0.9"/>
<circle cx="1395.12" cy="1621.84" r="4.45" fill="#0000ff" stroke="#000" stroke-width="0.9"/>
<circle cx="1429.07" cy="1773.5" r="4.45" fill="#0000ff" stroke="#000" stroke-width="0.9"/>
<circle cx="1463.01" cy="1720.93" r="4.45" fill="#0000ff" stroke="#000" stroke-width="0.9"/>
<circle cx="1496.96" cy="1773.5" r="4.45" fill="#0000ff" stroke="#000" stroke-width="0.9"/>
<path d="M885.95,1773.5 L919.89,1773.5 L953.84,1773.5 L987.78,1773.5 L1021.73,1773.5 L1055.67,1773.5 L1089.62,1773.5 L1123.56,1773.5 L1157.51,1773.5 L1191.45,1713.96 L1225.39,1773.5 L1259.34,1773.5 L1293.29,1682.69 L1327.23,1732.5 L1361.18,1773.5" fill="none" stroke="#ff0000" stroke-width="1.5" stroke-linejoin="round" stroke-linecap="butt"/>
<circle cx="885.95" cy="1773.5" r="4.45" fill="#ff0000" stroke="#000" stroke-width="0.9"/>
<circle cx="919.89" cy="1773.5" r="4.45" fill="#ff0000" stroke="#000" stroke-width="0.9"/>
<circle cx="953.84" cy="1773.5" r="4.45" fill="#ff0000" stroke="#000" stroke-width="0.9"/>
<circle cx="987.78" cy="1773.5" r="4.45" fill="#ff0000" stroke="#000" stroke-width="0.9"/>
<circle cx="1021.73" cy="1773.5" r="4.45" fill="#ff0000" stroke="#000" stroke-width="0.9"/>
<circle cx="1055.67" cy="1773.5" r="4.45" fill="#ff0000" stroke="#000" stroke-width="0.9"/>
<circle cx="1089.62" cy="1773.5" r="4.45" fill="#ff0000" stroke="#000" stroke-width="0.9"/>
<circle cx="1123.56" cy="1773.5" r="4.45" fill="#ff0000" stroke="#000" stroke-width="0.9"/>
<circle cx="1157.51" cy="1773.5" r="4.45" fill="#ff0000" stroke="#000" stroke-width="0.9"/>
<circle cx="1191.45" cy="1713.96" r="4.45" fill="#ff0000" stroke="#000" stroke-width="0.9"/>
<circle cx="1225.39" cy="1773.5" r="4.45" fill="#ff0000" stroke="#000" stroke-width="0.9"/>
<circle cx="1259.34" cy="1773.5" r="4.45" fill="#ff0000" stroke="#000" stroke-width="0.9"/>
<circle cx="1293.29" cy="1682.69" r="4.45" fill="#ff0000" stroke="#000" stroke-width="0.9"/>
<circle cx="1327.23" cy="1732.5" r="4.45" fill="#ff0000" stroke="#000" stroke-width="0.9"/>
<circle cx="1361.18" cy="1773.5" r="4.45" fill="#ff0000" stroke="#000" stroke-width="0.9"/>
<path d="M885.95,1773.5 L919.89,1773.5 L953.84,1773.5 L987.78,1773.5 L1021.73,1773.5 L1055.67,1773.5 L1089.62,1773.5 L1123.56,1773.5 L1157.51,1773.5 L1191.45,1773.5 L1225.39,1773.5 L1259.34,1773.5 L1293.29,1773.5 L1327.23,1773.5 L1361.18,1773.5 L1395.12,1773.5 L1429.07,1773.5 L1463.01,1773.5 L1496.96,1773.5" fill="none" stroke="#000000" stroke-width="1.5" stroke-linejoin="round" stroke-linecap="butt"/>
<circle cx="885.95" cy="1773.5" r="4.45" fill="#000000" stroke="#000" stroke-width="0.9"/>
<circle cx="919.89" cy="1773.5" r="4.45" fill="#000000" stroke="#000" stroke-width="0.9"/>
<circle cx="953.84" cy="1773.5" r="4.45" fill="#000000" stroke="#000" stroke-width="0.9"/>
<circle cx="987.78" cy="1773.5" r="4.45" fill="#000000" stroke="#000" stroke-width="0.9"/>
<circle cx="1021.73" cy="1773.5" r="4.45" fill="#000000" stroke="#000" stroke-width="0.9"/>
<circle cx="1055.67" cy="1773.5" r="4.45" fill="#000000" stroke="#000" stroke-width="0.9"/>
<circle cx="1089.62" cy="1773.5" r="4.45" fill="#000000" stroke="#000" stroke-width="0.9"/>
<circle cx="1123.56" cy="1773.5" r="4.45" fill="#000000" stroke="#000" stroke-width="0.9"/>
<circle cx="1157.51" cy="1773.5" r="4.45" fill="#000000" stroke="#000" stroke-width="0.9"/>
<circle cx="1191.45" cy="1773.5" r="4.45" fill="#000000" stroke="#000" stroke-width="0.9"/>
<circle cx="1225.39" cy="1773.5" r="4.45" fill="#000000" stroke="#000" stroke-width="0.9"/>
<circle cx="1259.34" cy="1773.5" r="4.45" fill="#000000" stroke="#000" stroke-width="0.9"/>
<circle cx="1293.29" cy="1773.5" r="4.45" fill="#000000" stroke="#000" stroke-width="0.9"/>
<circle cx="1327.23" cy="1773.5" r="4.45" fill="#000000" stroke="#000" stroke-width="0.9"/>
<circle cx="1361.18" cy="1773.5" r="4.45" fill="#000000" stroke="#000" stroke-width="0.9"/>
<circle cx="1395.12" cy="1773.5" r="4.45" fill="#000000" stroke="#000" stroke-width="0.9"/>
<circle cx="1429.07" cy="1773.5" r="4.45" fill="#000000" stroke="#000" stroke-width="0.9"/>
<circle cx="1463.01" cy="1773.5" r="4.45" fill="#000000" stroke="#000" stroke-width="0.9"/>
<circle cx="1496.96" cy="1773.5" r="4.45" fill="#000000" stroke="#000" stroke-width="0.9"/>
<path d="M885.95,1773.5 L919.89,1773.5 L953.84,1773.5 L987.78,1773.5 L1021.73,1773.5 L1055.67,1663.89 L1089.62,1696.22 L1123.56,1691.23 L1157.51,1526.95 L1191.45,1526.95 L1225.39,1691.23 L1259.34,1247.8 L1293.29,1408.14 L1327.23,1481.21 L1361.18,1773.5 L1395.12,1773.5 L1429.07,1773.5 L1463.01,1773.5 L1496.96,1773.5" fill="none" stroke="#00bfbf" stroke-width="1.5" stroke-dasharray="8.85,8.85" stroke-linejoin="round" stroke-linecap="butt"/>
<circle cx="885.95" cy="1773.5" r="4.45" fill="#00bfbf" stroke="#000" stroke-width="0.9"/>
<circle cx="919.89" cy="1773.5" r="4.45" fill="#00bfbf" stroke="#000" stroke-width="0.9"/>
<circle cx="953.84" cy="1773.5" r="4.45" fill="#00bfbf" stroke="#000" stroke-width="0.9"/>
<circle cx="987.78" cy="1773.5" r="4.45" fill="#00bfbf" stroke="#000" stroke-width="0.9"/>
<circle cx="1021.73" cy="1773.5" r="4.45" fill="#00bfbf" stroke="#000" stroke-width="0.9"/>
<circle cx="1055.67" cy="1663.89" r="4.45" fill="#00bfbf" stroke="#000" stroke-width="0.9"/>
<circle cx="1089.62" cy="1696.22" r="4.45" fill="#00bfbf" stroke="#000" stroke-width="0.9"/>
<circle cx="1123.56" cy="1691.23" r="4.45" fill="#00bfbf" stroke="#000" stroke-width="0.9"/>
<circle cx="1157.51" cy="1526.95" r="4.45" fill="#00bfbf" stroke="#000" stroke-width="0.9"/>
<circle cx="1191.45" cy="1526.95" r="4.45" fill="#00bfbf" stroke="#000" stroke-width="0.9"/>
<circle cx="1225.39" cy="1691.23" r="4.45" fill="#00bfbf" stroke="#000" stroke-width="0.9"/>
<circle cx="1259.34" cy="1247.8" r="4.45" fill="#00bfbf" stroke="#000" stroke-width="0.9"/>
<circle cx="1293.29" cy="1408.14" r="4.45" fill="#00bfbf" stroke="#000" stroke-width="0.9"/>
<circle cx="1327.23" cy="1481.21" r="4.45" fill="#00bfbf" stroke="#000" stroke-width="0.9"/>
<circle cx="1361.18" cy="1773.5" r="4.45" fill="#00bfbf" stroke="#000" stroke-width="0.9"/>
<circle cx="1395.12" cy="1773.5" r="4.45" fill="#00bfbf" stroke="#000" stroke-width="0.9"/>
<circle cx="1429.07" cy="1773.5" r="4.45" fill="#00bfbf" stroke="#000" stroke-width="0.9"/>
<circle cx="1463.01" cy="1773.5" r="4.45" fill="#00bfbf" stroke="#000" stroke-width="0.9"/>
<circle cx="1496.96" cy="1773.5" r="4.45" fill="#00bfbf" stroke="#000" stroke-width="0.9"/>
<path d="M885.95,1773.5 L919.89,1773.5 L953.84,1773.5 L987.78,1773.5 L1021.73,1773.5 L1055.67,1773.5 L1089.62,1773.5 L1123.56,1773.5 L1157.51,1749.45 L1191.45,1773.5 L1225.39,1739.99 L1259.34,1737.75 L1293.29,1750.24 L1327.23,1721.19 L1361.18,1723.82 L1395.12,1725.79 L1429.07,1720.67 L1463.01,1739.46 L1496.96,1773.5" fill="none" stroke="#bf00bf" stroke-width="1.5" stroke-dasharray="8.85,8.85" stroke-linejoin="round" stroke-linecap="butt"/>
<circle cx="885.95" cy="1773.5" r="4.45" fill="#bf00bf" stroke="#000" stroke-width="0.9"/>
<circle cx="919.89" cy="1773.5" r="4.45" fill="#bf00bf" stroke="#000" stroke-width="0.9"/>
<circle cx="953.84" cy="1773.5" r="4.45" fill="#bf00bf" stroke="#000" stroke-width="0.9"/>
<circle cx="987.78" cy="1773.5" r="4.45" fill="#bf00bf" stroke="#000" stroke-width="0.9"/>
<circle cx="1021.73" cy="1773.5" r="4.45" fill="#bf00bf" stroke="#000" stroke-width="0.9"/>
<circle cx="1055.67" cy="1773.5" r="4.45" fill="#bf00bf" stroke="#000" stroke-width="0.9"/>
<circle cx="1089.62" cy="1773.5" r="4.45" fill="#bf00bf" stroke="#000" stroke-width="0.9"/>
<circle cx="1123.56" cy="1773.5" r="4.45" fill="#bf00bf" stroke="#000" stroke-width="0.9"/>
<circle cx="1157.51" cy="1749.45" r="4.45" fill="#bf00bf" stroke="#000" stroke-width="0.9"/>
<circle cx="1191.45" cy="1773.5" r="4.45" fill="#bf00bf" stroke="#000" stroke-width="0.9"/>
<circle cx="1225.39" cy="1739.99" r="4.45" fill="#bf00bf" stroke="#000" stroke-width="0.9"/>
<circle cx="1259.34" cy="1737.75" r="4.45" fill="#bf00bf" stroke="#000" stroke-width="0.9"/>
<circle cx="1293.29" cy="1750.24" r="4.45" fill="#bf00bf" stroke="#000" stroke-width="0.9"/>
<circle cx="1327.23" cy="1721.19" r="4.45" fill="#bf00bf" stroke="#000" stroke-width="0.9"/>
<circle cx="1361.18" cy="1723.82" r="4.45" fill="#bf00bf" stroke="#000" stroke-width="0.9"/>
<circle cx="1395.12" cy="1725.79" r="4.45" fill="#bf00bf" stroke="#000" stroke-width="0.9"/>
<circle cx="1429.07" cy="1720.67" r="4.45" fill="#bf00bf" stroke="#000" stroke-width="0.9"/>
<circle cx="1463.01" cy="1739.46" r="4.45" fill="#bf00bf" stroke="#000" stroke-width="0.9"/>
<circle cx="1496.96" cy="1773.5" r="4.45" fill="#bf00bf" stroke="#000" stroke-width="0.9"/>
</g>
<path d="M852,1773.5v-6M852,1247.8v6M1021.73,1773.5v-6M1021.73,1247.8v6M1191.45,1773.5v-6M1191.45,1247.8v6M1361.18,1773.5v-6M1361.18,1247.8v6M1530.9,1773.5v-6M1530.9,1247.8v6M852,1773.5h6M1530.9,1773.5h-6M852,1707.79h6M1530.9,1707.79h-6M852,1642.08h6M1530.9,1642.08h-6M852,1576.36h6M1530.9,1576.36h-6M852,1510.65h6M1530.9,1510.65h-6M852,1444.94h6M1530.9,1444.94h-6M852,1379.22h6M1530.9,1379.22h-6M852,1313.51h6M1530.9,1313.51h-6M852,1247.8h6M1530.9,1247.8h-6" stroke="#000" stroke-width="0.75" fill="none"/>
<rect x="852" y="1247.8" width="678.9" height="525.7" fill="none" stroke="#000" stroke-width="1.8"/>
<g font-size="18.4"><text x="852" y="1793.7" text-anchor="middle">20</text><text x="1021.73" y="1793.7" text-anchor="middle">25</text><text x="1191.45" y="1793.7" text-anchor="middle">30</text><text x="1361.18" y="1793.7" text-anchor="middle">35</text><text x="1530.9" y="1793.7" text-anchor="middle">40</text><text x="846" y="1778.4" text-anchor="end">0</text><text x="846" y="1712.69" text-anchor="end">5</text><text x="846" y="1646.98" text-anchor="end">10</text><text x="846" y="1581.26" text-anchor="end">15</text><text x="846" y="1515.55" text-anchor="end">20</text><text x="846" y="1449.84" text-anchor="end">25</text><text x="846" y="1384.12" text-anchor="end">30</text><text x="846" y="1318.41" text-anchor="end">35</text><text x="846" y="1252.7" text-anchor="end">40</text><text x="1191.45" y="1818.7" text-anchor="middle">Week Code</text><text transform="translate(810.8,1510.65) rotate(-90)" text-anchor="middle">percent of WNV positive samples</text></g>
<text x="870.2" y="1290.6" font-size="34.4" font-weight="bold" font-family="Liberation Sans, Arial, sans-serif">F</text>
</svg>
</body></html>
